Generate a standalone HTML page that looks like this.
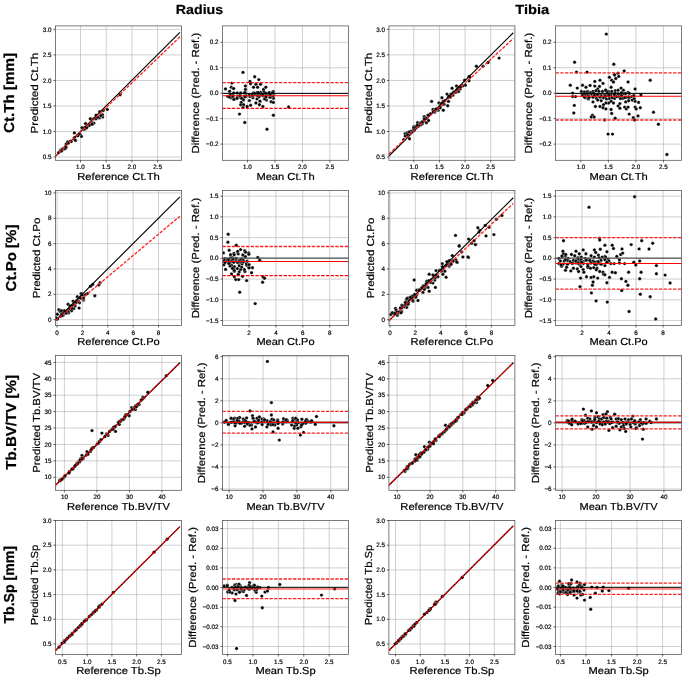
<!DOCTYPE html>
<html><head><meta charset="utf-8"><style>html,body{margin:0;padding:0;background:#fff;}svg{display:block;will-change:transform;text-rendering:geometricPrecision;}</style></head>
<body><svg width="685" height="681" viewBox="0 0 685 681" style="font-family: 'Liberation Sans', sans-serif;">
<rect width="685" height="681" fill="#fff"/>
<text x="199.50" y="14.35" font-size="13.2" text-anchor="middle" stroke="#000" stroke-width="0.2" font-weight="bold" textLength="47.3" lengthAdjust="spacingAndGlyphs">Radius</text>
<text x="532.20" y="14.35" font-size="13.2" text-anchor="middle" stroke="#000" stroke-width="0.2" font-weight="bold" textLength="33.9" lengthAdjust="spacingAndGlyphs">Tibia</text>
<text x="13.60" y="93.00" font-size="14.4" text-anchor="middle" stroke="#000" stroke-width="0.25" font-weight="bold" transform="rotate(-90 13.60 93.00)" textLength="80" lengthAdjust="spacingAndGlyphs">Ct.Th [mm]</text>
<text x="15.60" y="258.00" font-size="14.4" text-anchor="middle" stroke="#000" stroke-width="0.25" font-weight="bold" transform="rotate(-90 15.60 258.00)" textLength="66.8" lengthAdjust="spacingAndGlyphs">Ct.Po [%]</text>
<text x="15.60" y="422.40" font-size="14.4" text-anchor="middle" stroke="#000" stroke-width="0.25" font-weight="bold" transform="rotate(-90 15.60 422.40)" textLength="94.6" lengthAdjust="spacingAndGlyphs">Tb.BV/TV [%]</text>
<text x="13.60" y="584.80" font-size="14.4" text-anchor="middle" stroke="#000" stroke-width="0.25" font-weight="bold" transform="rotate(-90 13.60 584.80)" textLength="77.6" lengthAdjust="spacingAndGlyphs">Tb.Sp [mm]</text>
<clipPath id="c00"><rect x="55.5" y="25.9" width="126.0" height="134.4"/></clipPath>
<path d="M80.50 25.9V160.3M106.20 25.9V160.3M131.90 25.9V160.3M157.60 25.9V160.3M55.5 157.00H181.5M55.5 131.48H181.5M55.5 105.96H181.5M55.5 80.44H181.5M55.5 54.92H181.5M55.5 29.40H181.5" stroke="#b0b0b0" stroke-width="0.6" fill="none"/>
<g clip-path="url(#c00)">
<g fill="#000" stroke="#fff" stroke-width="0.3"><circle cx="60.3" cy="150.5" r="1.7"/><circle cx="63.8" cy="148.7" r="1.7"/><circle cx="66.2" cy="144.0" r="1.7"/><circle cx="70.3" cy="141.1" r="1.7"/><circle cx="74.4" cy="132.9" r="1.7"/><circle cx="75.6" cy="140.5" r="1.7"/><circle cx="74.4" cy="137.6" r="1.7"/><circle cx="77.9" cy="135.2" r="1.7"/><circle cx="81.4" cy="136.4" r="1.7"/><circle cx="82.0" cy="127.6" r="1.7"/><circle cx="83.8" cy="129.4" r="1.7"/><circle cx="85.5" cy="123.5" r="1.7"/><circle cx="89.1" cy="124.7" r="1.7"/><circle cx="90.3" cy="118.8" r="1.7"/><circle cx="93.8" cy="118.8" r="1.7"/><circle cx="96.1" cy="115.3" r="1.7"/><circle cx="96.1" cy="118.8" r="1.7"/><circle cx="99.7" cy="111.7" r="1.7"/><circle cx="102.6" cy="117.0" r="1.7"/><circle cx="103.2" cy="110.5" r="1.7"/><circle cx="107.3" cy="109.4" r="1.7"/><circle cx="120.2" cy="94.7" r="1.7"/><circle cx="75.0" cy="140.0" r="1.7"/><circle cx="60.8" cy="150.0" r="1.7"/><circle cx="60.7" cy="150.9" r="1.7"/><circle cx="80.0" cy="134.2" r="1.7"/><circle cx="79.4" cy="134.0" r="1.7"/><circle cx="67.6" cy="141.9" r="1.7"/><circle cx="84.9" cy="129.0" r="1.7"/><circle cx="60.8" cy="150.8" r="1.7"/><circle cx="65.8" cy="147.5" r="1.7"/><circle cx="99.3" cy="117.9" r="1.7"/><circle cx="89.2" cy="125.6" r="1.7"/><circle cx="61.7" cy="150.9" r="1.7"/><circle cx="91.3" cy="123.2" r="1.7"/><circle cx="86.6" cy="127.4" r="1.7"/><circle cx="97.5" cy="117.1" r="1.7"/><circle cx="84.9" cy="127.4" r="1.7"/><circle cx="93.9" cy="123.1" r="1.7"/><circle cx="62.6" cy="148.9" r="1.7"/><circle cx="65.3" cy="146.7" r="1.7"/><circle cx="91.5" cy="122.3" r="1.7"/><circle cx="101.2" cy="115.4" r="1.7"/><circle cx="86.8" cy="126.3" r="1.7"/><circle cx="101.0" cy="115.4" r="1.7"/><circle cx="92.5" cy="124.1" r="1.7"/><circle cx="92.0" cy="124.3" r="1.7"/><circle cx="71.2" cy="141.6" r="1.7"/><circle cx="58.6" cy="152.6" r="1.7"/><circle cx="65.3" cy="148.8" r="1.7"/><circle cx="64.5" cy="148.6" r="1.7"/><circle cx="102.4" cy="114.8" r="1.7"/><circle cx="86.7" cy="127.7" r="1.7"/><circle cx="101.0" cy="115.5" r="1.7"/><circle cx="77.6" cy="135.8" r="1.7"/><circle cx="65.8" cy="147.3" r="1.7"/><circle cx="68.5" cy="143.1" r="1.7"/></g>
<path d="M55.5 156.30L179.9 32.39" stroke="#000" stroke-width="1.15" fill="none"/>
<path d="M55.5 156.00L179.9 36.83" stroke="#ff2020" stroke-width="1.3" fill="none" stroke-dasharray="3.3 1.4"/>
</g>
<rect x="55.5" y="25.9" width="126.0" height="134.40" fill="none" stroke="#505050" stroke-width="0.75"/>
<path d="M80.50 160.3v2.1M106.20 160.3v2.1M131.90 160.3v2.1M157.60 160.3v2.1M55.5 157.00h-2.1M55.5 131.48h-2.1M55.5 105.96h-2.1M55.5 80.44h-2.1M55.5 54.92h-2.1M55.5 29.40h-2.1" stroke="#222" stroke-width="0.7" fill="none"/>
<text x="80.50" y="169.40" font-size="6.3" text-anchor="middle" stroke="#000" stroke-width="0.18">1.0</text>
<text x="106.20" y="169.40" font-size="6.3" text-anchor="middle" stroke="#000" stroke-width="0.18">1.5</text>
<text x="131.90" y="169.40" font-size="6.3" text-anchor="middle" stroke="#000" stroke-width="0.18">2.0</text>
<text x="157.60" y="169.40" font-size="6.3" text-anchor="middle" stroke="#000" stroke-width="0.18">2.5</text>
<text x="51.50" y="159.10" font-size="6.3" text-anchor="end" stroke="#000" stroke-width="0.18">0.5</text>
<text x="51.50" y="133.58" font-size="6.3" text-anchor="end" stroke="#000" stroke-width="0.18">1.0</text>
<text x="51.50" y="108.06" font-size="6.3" text-anchor="end" stroke="#000" stroke-width="0.18">1.5</text>
<text x="51.50" y="82.54" font-size="6.3" text-anchor="end" stroke="#000" stroke-width="0.18">2.0</text>
<text x="51.50" y="57.02" font-size="6.3" text-anchor="end" stroke="#000" stroke-width="0.18">2.5</text>
<text x="51.50" y="31.50" font-size="6.3" text-anchor="end" stroke="#000" stroke-width="0.18">3.0</text>
<text x="118.50" y="180.30" font-size="10.2" text-anchor="middle" stroke="#000" stroke-width="0.2" textLength="82.7" lengthAdjust="spacingAndGlyphs">Reference Ct.Th</text>
<text x="38.50" y="93.10" font-size="10.2" text-anchor="middle" stroke="#000" stroke-width="0.2" transform="rotate(-90 38.50 93.10)" textLength="80.7" lengthAdjust="spacingAndGlyphs">Predicted Ct.Th</text>
<clipPath id="c01"><rect x="222.5" y="25.9" width="126.0" height="134.4"/></clipPath>
<path d="M247.50 25.9V160.3M274.97 25.9V160.3M302.43 25.9V160.3M329.90 25.9V160.3M222.5 144.10H348.5M222.5 118.65H348.5M222.5 93.20H348.5M222.5 67.75H348.5M222.5 42.30H348.5" stroke="#b0b0b0" stroke-width="0.6" fill="none"/>
<g clip-path="url(#c01)">
<g fill="#000" stroke="#fff" stroke-width="0.3"><circle cx="225.5" cy="88.9" r="1.7"/><circle cx="243.0" cy="72.4" r="1.7"/><circle cx="231.9" cy="83.1" r="1.7"/><circle cx="231.3" cy="87.2" r="1.7"/><circle cx="233.1" cy="88.4" r="1.7"/><circle cx="229.6" cy="91.3" r="1.7"/><circle cx="227.8" cy="96.5" r="1.7"/><circle cx="230.8" cy="97.7" r="1.7"/><circle cx="234.3" cy="98.9" r="1.7"/><circle cx="233.7" cy="93.0" r="1.7"/><circle cx="237.2" cy="93.0" r="1.7"/><circle cx="240.7" cy="93.0" r="1.7"/><circle cx="240.7" cy="97.1" r="1.7"/><circle cx="243.6" cy="100.0" r="1.7"/><circle cx="241.3" cy="102.4" r="1.7"/><circle cx="240.7" cy="104.7" r="1.7"/><circle cx="243.6" cy="104.7" r="1.7"/><circle cx="243.0" cy="107.6" r="1.7"/><circle cx="245.4" cy="86.0" r="1.7"/><circle cx="245.4" cy="89.5" r="1.7"/><circle cx="244.2" cy="93.0" r="1.7"/><circle cx="245.9" cy="96.5" r="1.7"/><circle cx="247.1" cy="106.5" r="1.7"/><circle cx="250.0" cy="81.4" r="1.7"/><circle cx="250.6" cy="83.7" r="1.7"/><circle cx="254.7" cy="76.7" r="1.7"/><circle cx="253.5" cy="87.2" r="1.7"/><circle cx="249.4" cy="100.6" r="1.7"/><circle cx="250.6" cy="105.3" r="1.7"/><circle cx="250.0" cy="96.5" r="1.7"/><circle cx="252.9" cy="97.7" r="1.7"/><circle cx="253.5" cy="93.0" r="1.7"/><circle cx="255.9" cy="84.3" r="1.7"/><circle cx="257.6" cy="87.2" r="1.7"/><circle cx="258.8" cy="79.6" r="1.7"/><circle cx="260.5" cy="84.3" r="1.7"/><circle cx="257.0" cy="92.4" r="1.7"/><circle cx="257.0" cy="98.9" r="1.7"/><circle cx="255.9" cy="103.0" r="1.7"/><circle cx="260.0" cy="101.2" r="1.7"/><circle cx="259.4" cy="104.7" r="1.7"/><circle cx="262.9" cy="106.5" r="1.7"/><circle cx="260.5" cy="92.4" r="1.7"/><circle cx="263.5" cy="89.5" r="1.7"/><circle cx="265.8" cy="87.2" r="1.7"/><circle cx="264.0" cy="95.9" r="1.7"/><circle cx="266.4" cy="100.0" r="1.7"/><circle cx="268.7" cy="93.0" r="1.7"/><circle cx="271.1" cy="94.2" r="1.7"/><circle cx="273.4" cy="94.8" r="1.7"/><circle cx="273.4" cy="98.3" r="1.7"/><circle cx="271.1" cy="101.8" r="1.7"/><circle cx="273.4" cy="102.4" r="1.7"/><circle cx="239.5" cy="114.1" r="1.7"/><circle cx="273.4" cy="115.2" r="1.7"/><circle cx="244.8" cy="122.5" r="1.7"/><circle cx="267.0" cy="129.2" r="1.7"/><circle cx="288.6" cy="107.0" r="1.7"/><circle cx="240.1" cy="95.1" r="1.7"/><circle cx="245.0" cy="92.5" r="1.7"/><circle cx="259.8" cy="94.7" r="1.7"/><circle cx="259.1" cy="96.8" r="1.7"/><circle cx="263.9" cy="91.8" r="1.7"/><circle cx="246.0" cy="95.7" r="1.7"/><circle cx="257.2" cy="95.4" r="1.7"/><circle cx="237.6" cy="96.9" r="1.7"/><circle cx="230.4" cy="95.0" r="1.7"/><circle cx="232.7" cy="95.4" r="1.7"/><circle cx="268.2" cy="94.1" r="1.7"/><circle cx="239.6" cy="96.9" r="1.7"/><circle cx="233.7" cy="88.6" r="1.7"/><circle cx="249.4" cy="95.1" r="1.7"/><circle cx="232.7" cy="96.6" r="1.7"/><circle cx="266.1" cy="95.5" r="1.7"/><circle cx="271.7" cy="94.8" r="1.7"/><circle cx="253.0" cy="95.5" r="1.7"/><circle cx="273.0" cy="92.1" r="1.7"/><circle cx="240.0" cy="96.1" r="1.7"/><circle cx="263.5" cy="94.1" r="1.7"/><circle cx="243.2" cy="99.5" r="1.7"/><circle cx="273.3" cy="91.4" r="1.7"/><circle cx="265.6" cy="93.2" r="1.7"/><circle cx="251.8" cy="95.5" r="1.7"/><circle cx="229.3" cy="96.9" r="1.7"/><circle cx="259.9" cy="94.3" r="1.7"/><circle cx="271.1" cy="94.5" r="1.7"/><circle cx="244.8" cy="96.8" r="1.7"/><circle cx="237.0" cy="98.4" r="1.7"/><circle cx="269.4" cy="92.6" r="1.7"/><circle cx="258.0" cy="94.0" r="1.7"/><circle cx="258.4" cy="92.7" r="1.7"/><circle cx="262.5" cy="95.2" r="1.7"/><circle cx="264.3" cy="98.9" r="1.7"/><circle cx="272.7" cy="96.5" r="1.7"/><circle cx="271.6" cy="93.5" r="1.7"/><circle cx="233.8" cy="99.4" r="1.7"/><circle cx="265.1" cy="98.7" r="1.7"/><circle cx="273.1" cy="93.1" r="1.7"/><circle cx="253.2" cy="95.3" r="1.7"/><circle cx="272.7" cy="92.5" r="1.7"/><circle cx="270.9" cy="97.0" r="1.7"/><circle cx="266.0" cy="96.8" r="1.7"/><circle cx="241.5" cy="98.3" r="1.7"/><circle cx="239.9" cy="95.6" r="1.7"/><circle cx="269.9" cy="97.2" r="1.7"/><circle cx="254.8" cy="93.5" r="1.7"/><circle cx="270.2" cy="95.0" r="1.7"/><circle cx="252.1" cy="95.3" r="1.7"/></g>
<path d="M222.5 93.4H348.5" stroke="#000" stroke-width="1.0" fill="none"/>
<path d="M222.5 95.7H348.5" stroke="#ff0000" stroke-width="1.05" fill="none"/>
<path d="M222.5 82.7H348.5" stroke="#ff2020" stroke-width="1.3" fill="none" stroke-dasharray="3.3 1.4"/>
<path d="M222.5 108.4H348.5" stroke="#ff0000" stroke-width="1.3" fill="none" stroke-dasharray="3.3 1.4"/>
</g>
<rect x="222.5" y="25.9" width="126.0" height="134.40" fill="none" stroke="#505050" stroke-width="0.75"/>
<path d="M247.50 160.3v2.1M274.97 160.3v2.1M302.43 160.3v2.1M329.90 160.3v2.1M222.5 144.10h-2.1M222.5 118.65h-2.1M222.5 93.20h-2.1M222.5 67.75h-2.1M222.5 42.30h-2.1" stroke="#222" stroke-width="0.7" fill="none"/>
<text x="247.50" y="169.40" font-size="6.3" text-anchor="middle" stroke="#000" stroke-width="0.18">1.0</text>
<text x="274.97" y="169.40" font-size="6.3" text-anchor="middle" stroke="#000" stroke-width="0.18">1.5</text>
<text x="302.43" y="169.40" font-size="6.3" text-anchor="middle" stroke="#000" stroke-width="0.18">2.0</text>
<text x="329.90" y="169.40" font-size="6.3" text-anchor="middle" stroke="#000" stroke-width="0.18">2.5</text>
<text x="218.50" y="146.20" font-size="6.3" text-anchor="end" stroke="#000" stroke-width="0.18">−0.2</text>
<text x="218.50" y="120.75" font-size="6.3" text-anchor="end" stroke="#000" stroke-width="0.18">−0.1</text>
<text x="218.50" y="95.30" font-size="6.3" text-anchor="end" stroke="#000" stroke-width="0.18">0.0</text>
<text x="218.50" y="69.85" font-size="6.3" text-anchor="end" stroke="#000" stroke-width="0.18">0.1</text>
<text x="218.50" y="44.40" font-size="6.3" text-anchor="end" stroke="#000" stroke-width="0.18">0.2</text>
<text x="285.50" y="180.30" font-size="10.2" text-anchor="middle" stroke="#000" stroke-width="0.2" textLength="58.2" lengthAdjust="spacingAndGlyphs">Mean Ct.Th</text>
<text x="199.30" y="93.10" font-size="10.2" text-anchor="middle" stroke="#000" stroke-width="0.2" transform="rotate(-90 199.30 93.10)" textLength="120.7" lengthAdjust="spacingAndGlyphs">Difference (Pred. - Ref.)</text>
<clipPath id="c02"><rect x="388.9" y="25.9" width="126.0" height="134.4"/></clipPath>
<path d="M413.80 25.9V160.3M439.43 25.9V160.3M465.07 25.9V160.3M490.70 25.9V160.3M388.9 157.00H514.9M388.9 131.48H514.9M388.9 105.96H514.9M388.9 80.44H514.9M388.9 54.92H514.9M388.9 29.40H514.9" stroke="#b0b0b0" stroke-width="0.6" fill="none"/>
<g clip-path="url(#c02)">
<g fill="#000" stroke="#fff" stroke-width="0.3"><circle cx="405.1" cy="133.7" r="1.7"/><circle cx="408.8" cy="132.2" r="1.7"/><circle cx="409.5" cy="138.8" r="1.7"/><circle cx="403.7" cy="139.6" r="1.7"/><circle cx="415.4" cy="127.8" r="1.7"/><circle cx="417.6" cy="122.7" r="1.7"/><circle cx="420.6" cy="124.9" r="1.7"/><circle cx="425.7" cy="117.5" r="1.7"/><circle cx="426.4" cy="122.7" r="1.7"/><circle cx="428.6" cy="120.5" r="1.7"/><circle cx="431.6" cy="101.4" r="1.7"/><circle cx="433.0" cy="109.5" r="1.7"/><circle cx="434.5" cy="112.4" r="1.7"/><circle cx="438.2" cy="110.2" r="1.7"/><circle cx="438.9" cy="102.9" r="1.7"/><circle cx="441.9" cy="97.7" r="1.7"/><circle cx="443.3" cy="110.2" r="1.7"/><circle cx="444.1" cy="104.3" r="1.7"/><circle cx="447.0" cy="94.1" r="1.7"/><circle cx="447.7" cy="105.8" r="1.7"/><circle cx="448.5" cy="101.4" r="1.7"/><circle cx="450.7" cy="94.1" r="1.7"/><circle cx="452.1" cy="88.2" r="1.7"/><circle cx="456.5" cy="86.0" r="1.7"/><circle cx="456.5" cy="91.9" r="1.7"/><circle cx="460.2" cy="88.9" r="1.7"/><circle cx="464.6" cy="80.1" r="1.7"/><circle cx="465.3" cy="85.2" r="1.7"/><circle cx="469.0" cy="76.4" r="1.7"/><circle cx="469.0" cy="80.8" r="1.7"/><circle cx="476.4" cy="66.2" r="1.7"/><circle cx="483.0" cy="66.2" r="1.7"/><circle cx="488.1" cy="62.5" r="1.7"/><circle cx="499.1" cy="58.1" r="1.7"/><circle cx="417.9" cy="126.4" r="1.7"/><circle cx="413.8" cy="127.3" r="1.7"/><circle cx="440.2" cy="105.8" r="1.7"/><circle cx="440.8" cy="104.3" r="1.7"/><circle cx="441.0" cy="105.3" r="1.7"/><circle cx="453.7" cy="92.1" r="1.7"/><circle cx="455.1" cy="92.4" r="1.7"/><circle cx="443.2" cy="101.4" r="1.7"/><circle cx="448.5" cy="97.2" r="1.7"/><circle cx="437.0" cy="108.7" r="1.7"/><circle cx="462.6" cy="85.9" r="1.7"/><circle cx="442.7" cy="103.9" r="1.7"/><circle cx="413.8" cy="129.8" r="1.7"/><circle cx="408.8" cy="133.2" r="1.7"/><circle cx="448.6" cy="96.1" r="1.7"/><circle cx="413.9" cy="126.6" r="1.7"/><circle cx="415.4" cy="126.9" r="1.7"/><circle cx="419.5" cy="124.0" r="1.7"/><circle cx="438.0" cy="108.6" r="1.7"/><circle cx="413.6" cy="128.1" r="1.7"/><circle cx="426.7" cy="118.2" r="1.7"/><circle cx="452.9" cy="95.3" r="1.7"/><circle cx="434.0" cy="111.6" r="1.7"/><circle cx="444.8" cy="100.8" r="1.7"/><circle cx="469.7" cy="77.3" r="1.7"/><circle cx="410.9" cy="131.2" r="1.7"/><circle cx="455.3" cy="92.3" r="1.7"/><circle cx="433.4" cy="111.5" r="1.7"/><circle cx="422.4" cy="123.8" r="1.7"/><circle cx="441.5" cy="103.5" r="1.7"/><circle cx="407.4" cy="132.7" r="1.7"/><circle cx="410.1" cy="132.3" r="1.7"/><circle cx="458.6" cy="91.5" r="1.7"/><circle cx="409.1" cy="132.3" r="1.7"/><circle cx="424.2" cy="116.6" r="1.7"/><circle cx="422.5" cy="122.4" r="1.7"/><circle cx="420.2" cy="123.5" r="1.7"/><circle cx="407.6" cy="134.9" r="1.7"/><circle cx="424.2" cy="118.5" r="1.7"/><circle cx="437.4" cy="108.8" r="1.7"/><circle cx="405.2" cy="136.1" r="1.7"/><circle cx="451.8" cy="94.3" r="1.7"/><circle cx="435.8" cy="109.3" r="1.7"/><circle cx="457.0" cy="90.0" r="1.7"/><circle cx="458.2" cy="89.3" r="1.7"/><circle cx="450.3" cy="97.0" r="1.7"/><circle cx="458.5" cy="87.4" r="1.7"/><circle cx="430.5" cy="113.8" r="1.7"/><circle cx="414.1" cy="130.2" r="1.7"/><circle cx="421.1" cy="122.5" r="1.7"/><circle cx="460.5" cy="87.1" r="1.7"/><circle cx="422.6" cy="121.5" r="1.7"/><circle cx="434.9" cy="111.3" r="1.7"/><circle cx="424.0" cy="121.1" r="1.7"/><circle cx="440.2" cy="107.9" r="1.7"/><circle cx="424.4" cy="119.1" r="1.7"/><circle cx="428.0" cy="115.1" r="1.7"/><circle cx="417.2" cy="125.3" r="1.7"/><circle cx="422.3" cy="122.2" r="1.7"/><circle cx="407.6" cy="134.7" r="1.7"/></g>
<path d="M388.9 156.00L513.3 32.78" stroke="#000" stroke-width="1.15" fill="none"/>
<path d="M388.9 154.00L513.3 38.39" stroke="#ff2020" stroke-width="1.3" fill="none" stroke-dasharray="3.3 1.4"/>
</g>
<rect x="388.9" y="25.9" width="126.0" height="134.40" fill="none" stroke="#505050" stroke-width="0.75"/>
<path d="M413.80 160.3v2.1M439.43 160.3v2.1M465.07 160.3v2.1M490.70 160.3v2.1M388.9 157.00h-2.1M388.9 131.48h-2.1M388.9 105.96h-2.1M388.9 80.44h-2.1M388.9 54.92h-2.1M388.9 29.40h-2.1" stroke="#222" stroke-width="0.7" fill="none"/>
<text x="413.80" y="169.40" font-size="6.3" text-anchor="middle" stroke="#000" stroke-width="0.18">1.0</text>
<text x="439.43" y="169.40" font-size="6.3" text-anchor="middle" stroke="#000" stroke-width="0.18">1.5</text>
<text x="465.07" y="169.40" font-size="6.3" text-anchor="middle" stroke="#000" stroke-width="0.18">2.0</text>
<text x="490.70" y="169.40" font-size="6.3" text-anchor="middle" stroke="#000" stroke-width="0.18">2.5</text>
<text x="384.90" y="159.10" font-size="6.3" text-anchor="end" stroke="#000" stroke-width="0.18">0.5</text>
<text x="384.90" y="133.58" font-size="6.3" text-anchor="end" stroke="#000" stroke-width="0.18">1.0</text>
<text x="384.90" y="108.06" font-size="6.3" text-anchor="end" stroke="#000" stroke-width="0.18">1.5</text>
<text x="384.90" y="82.54" font-size="6.3" text-anchor="end" stroke="#000" stroke-width="0.18">2.0</text>
<text x="384.90" y="57.02" font-size="6.3" text-anchor="end" stroke="#000" stroke-width="0.18">2.5</text>
<text x="384.90" y="31.50" font-size="6.3" text-anchor="end" stroke="#000" stroke-width="0.18">3.0</text>
<text x="451.90" y="180.30" font-size="10.2" text-anchor="middle" stroke="#000" stroke-width="0.2" textLength="82.7" lengthAdjust="spacingAndGlyphs">Reference Ct.Th</text>
<text x="371.90" y="93.10" font-size="10.2" text-anchor="middle" stroke="#000" stroke-width="0.2" transform="rotate(-90 371.90 93.10)" textLength="80.7" lengthAdjust="spacingAndGlyphs">Predicted Ct.Th</text>
<clipPath id="c03"><rect x="555.6" y="25.9" width="126.0" height="134.4"/></clipPath>
<path d="M580.80 25.9V160.3M608.33 25.9V160.3M635.87 25.9V160.3M663.40 25.9V160.3M555.6 144.10H681.6M555.6 118.65H681.6M555.6 93.20H681.6M555.6 67.75H681.6M555.6 42.30H681.6" stroke="#b0b0b0" stroke-width="0.6" fill="none"/>
<g clip-path="url(#c03)">
<g fill="#000" stroke="#fff" stroke-width="0.3"><circle cx="606.3" cy="34.1" r="1.7"/><circle cx="574.6" cy="62.2" r="1.7"/><circle cx="576.5" cy="72.1" r="1.7"/><circle cx="587.0" cy="72.1" r="1.7"/><circle cx="608.1" cy="134.1" r="1.7"/><circle cx="612.5" cy="134.1" r="1.7"/><circle cx="613.8" cy="64.2" r="1.7"/><circle cx="614.3" cy="74.6" r="1.7"/><circle cx="618.0" cy="73.3" r="1.7"/><circle cx="624.2" cy="70.9" r="1.7"/><circle cx="650.2" cy="80.3" r="1.7"/><circle cx="653.5" cy="112.3" r="1.7"/><circle cx="658.4" cy="124.2" r="1.7"/><circle cx="666.9" cy="154.5" r="1.7"/><circle cx="570.3" cy="85.3" r="1.7"/><circle cx="577.3" cy="88.1" r="1.7"/><circle cx="582.5" cy="85.3" r="1.7"/><circle cx="586.0" cy="87.3" r="1.7"/><circle cx="590.1" cy="85.5" r="1.7"/><circle cx="594.8" cy="81.4" r="1.7"/><circle cx="600.0" cy="80.3" r="1.7"/><circle cx="603.0" cy="83.4" r="1.7"/><circle cx="594.8" cy="86.1" r="1.7"/><circle cx="599.5" cy="86.4" r="1.7"/><circle cx="597.7" cy="89.0" r="1.7"/><circle cx="611.1" cy="87.3" r="1.7"/><circle cx="609.4" cy="77.3" r="1.7"/><circle cx="611.7" cy="80.3" r="1.7"/><circle cx="613.5" cy="82.0" r="1.7"/><circle cx="615.8" cy="78.5" r="1.7"/><circle cx="618.7" cy="76.4" r="1.7"/><circle cx="614.6" cy="75.0" r="1.7"/><circle cx="628.1" cy="82.0" r="1.7"/><circle cx="621.1" cy="88.1" r="1.7"/><circle cx="623.4" cy="90.2" r="1.7"/><circle cx="635.1" cy="89.0" r="1.7"/><circle cx="628.1" cy="92.5" r="1.7"/><circle cx="640.9" cy="94.9" r="1.7"/><circle cx="572.6" cy="93.1" r="1.7"/><circle cx="572.6" cy="96.6" r="1.7"/><circle cx="575.5" cy="96.6" r="1.7"/><circle cx="574.3" cy="105.4" r="1.7"/><circle cx="573.8" cy="113.0" r="1.7"/><circle cx="581.4" cy="91.4" r="1.7"/><circle cx="584.3" cy="91.9" r="1.7"/><circle cx="587.8" cy="91.4" r="1.7"/><circle cx="590.7" cy="92.5" r="1.7"/><circle cx="593.0" cy="91.4" r="1.7"/><circle cx="595.9" cy="90.8" r="1.7"/><circle cx="598.9" cy="91.4" r="1.7"/><circle cx="602.4" cy="91.4" r="1.7"/><circle cx="605.3" cy="90.2" r="1.7"/><circle cx="608.8" cy="91.4" r="1.7"/><circle cx="611.7" cy="91.4" r="1.7"/><circle cx="615.2" cy="90.8" r="1.7"/><circle cx="618.1" cy="90.2" r="1.7"/><circle cx="582.5" cy="94.3" r="1.7"/><circle cx="585.4" cy="94.9" r="1.7"/><circle cx="588.4" cy="95.4" r="1.7"/><circle cx="591.9" cy="94.3" r="1.7"/><circle cx="595.4" cy="94.9" r="1.7"/><circle cx="598.3" cy="94.3" r="1.7"/><circle cx="601.2" cy="95.4" r="1.7"/><circle cx="604.7" cy="94.9" r="1.7"/><circle cx="607.6" cy="94.3" r="1.7"/><circle cx="610.5" cy="94.9" r="1.7"/><circle cx="614.1" cy="94.9" r="1.7"/><circle cx="616.4" cy="94.3" r="1.7"/><circle cx="619.9" cy="95.4" r="1.7"/><circle cx="624.0" cy="93.7" r="1.7"/><circle cx="585.4" cy="97.8" r="1.7"/><circle cx="588.4" cy="98.9" r="1.7"/><circle cx="593.0" cy="97.2" r="1.7"/><circle cx="596.5" cy="98.4" r="1.7"/><circle cx="600.0" cy="97.2" r="1.7"/><circle cx="603.5" cy="97.8" r="1.7"/><circle cx="606.5" cy="98.9" r="1.7"/><circle cx="609.4" cy="98.4" r="1.7"/><circle cx="612.3" cy="97.8" r="1.7"/><circle cx="614.6" cy="98.4" r="1.7"/><circle cx="618.7" cy="96.6" r="1.7"/><circle cx="622.8" cy="98.4" r="1.7"/><circle cx="626.3" cy="97.2" r="1.7"/><circle cx="629.2" cy="97.8" r="1.7"/><circle cx="631.6" cy="96.6" r="1.7"/><circle cx="593.0" cy="101.9" r="1.7"/><circle cx="597.7" cy="100.1" r="1.7"/><circle cx="601.2" cy="100.7" r="1.7"/><circle cx="605.9" cy="103.0" r="1.7"/><circle cx="608.8" cy="103.0" r="1.7"/><circle cx="611.1" cy="101.3" r="1.7"/><circle cx="613.5" cy="103.0" r="1.7"/><circle cx="619.9" cy="103.6" r="1.7"/><circle cx="625.7" cy="101.9" r="1.7"/><circle cx="628.6" cy="100.7" r="1.7"/><circle cx="632.2" cy="100.1" r="1.7"/><circle cx="635.1" cy="101.3" r="1.7"/><circle cx="638.6" cy="102.4" r="1.7"/><circle cx="595.4" cy="106.5" r="1.7"/><circle cx="600.0" cy="106.5" r="1.7"/><circle cx="603.5" cy="104.8" r="1.7"/><circle cx="603.0" cy="107.7" r="1.7"/><circle cx="605.9" cy="108.9" r="1.7"/><circle cx="611.1" cy="109.5" r="1.7"/><circle cx="611.7" cy="113.5" r="1.7"/><circle cx="618.1" cy="105.9" r="1.7"/><circle cx="619.9" cy="108.3" r="1.7"/><circle cx="624.6" cy="107.1" r="1.7"/><circle cx="626.3" cy="108.9" r="1.7"/><circle cx="628.1" cy="107.1" r="1.7"/><circle cx="635.1" cy="107.1" r="1.7"/><circle cx="636.2" cy="108.9" r="1.7"/><circle cx="640.3" cy="107.7" r="1.7"/><circle cx="592.4" cy="115.3" r="1.7"/><circle cx="591.3" cy="117.0" r="1.7"/><circle cx="594.2" cy="117.0" r="1.7"/><circle cx="629.2" cy="114.1" r="1.7"/><circle cx="615.2" cy="118.2" r="1.7"/><circle cx="633.3" cy="117.6" r="1.7"/><circle cx="638.0" cy="115.9" r="1.7"/><circle cx="604.7" cy="120.0" r="1.7"/><circle cx="634.5" cy="120.0" r="1.7"/><circle cx="593.6" cy="93.2" r="1.7"/><circle cx="621.5" cy="92.8" r="1.7"/><circle cx="628.5" cy="96.9" r="1.7"/><circle cx="634.2" cy="98.6" r="1.7"/><circle cx="615.7" cy="96.3" r="1.7"/><circle cx="629.2" cy="93.4" r="1.7"/><circle cx="624.9" cy="97.5" r="1.7"/><circle cx="608.2" cy="91.9" r="1.7"/><circle cx="625.6" cy="93.5" r="1.7"/><circle cx="617.9" cy="94.0" r="1.7"/><circle cx="582.7" cy="95.5" r="1.7"/><circle cx="586.7" cy="92.0" r="1.7"/><circle cx="614.9" cy="93.1" r="1.7"/><circle cx="607.4" cy="95.1" r="1.7"/><circle cx="621.4" cy="95.5" r="1.7"/><circle cx="616.6" cy="96.6" r="1.7"/><circle cx="594.6" cy="95.2" r="1.7"/><circle cx="620.4" cy="98.6" r="1.7"/><circle cx="633.7" cy="96.0" r="1.7"/><circle cx="606.9" cy="91.8" r="1.7"/><circle cx="614.3" cy="94.6" r="1.7"/><circle cx="589.0" cy="97.6" r="1.7"/><circle cx="597.4" cy="94.5" r="1.7"/><circle cx="584.3" cy="97.1" r="1.7"/><circle cx="618.4" cy="93.9" r="1.7"/><circle cx="608.9" cy="95.5" r="1.7"/><circle cx="587.4" cy="93.4" r="1.7"/><circle cx="633.8" cy="95.8" r="1.7"/><circle cx="605.8" cy="90.2" r="1.7"/><circle cx="605.3" cy="96.3" r="1.7"/></g>
<path d="M555.6 93.4H681.6" stroke="#000" stroke-width="1.0" fill="none"/>
<path d="M555.6 96.3H681.6" stroke="#ff0000" stroke-width="1.05" fill="none"/>
<path d="M555.6 72.9H681.6" stroke="#ff2020" stroke-width="1.3" fill="none" stroke-dasharray="3.3 1.4"/>
<path d="M555.6 120.0H681.6" stroke="#ff2020" stroke-width="1.3" fill="none" stroke-dasharray="3.3 1.4"/>
</g>
<rect x="555.6" y="25.9" width="126.0" height="134.40" fill="none" stroke="#505050" stroke-width="0.75"/>
<path d="M580.80 160.3v2.1M608.33 160.3v2.1M635.87 160.3v2.1M663.40 160.3v2.1M555.6 144.10h-2.1M555.6 118.65h-2.1M555.6 93.20h-2.1M555.6 67.75h-2.1M555.6 42.30h-2.1" stroke="#222" stroke-width="0.7" fill="none"/>
<text x="580.80" y="169.40" font-size="6.3" text-anchor="middle" stroke="#000" stroke-width="0.18">1.0</text>
<text x="608.33" y="169.40" font-size="6.3" text-anchor="middle" stroke="#000" stroke-width="0.18">1.5</text>
<text x="635.87" y="169.40" font-size="6.3" text-anchor="middle" stroke="#000" stroke-width="0.18">2.0</text>
<text x="663.40" y="169.40" font-size="6.3" text-anchor="middle" stroke="#000" stroke-width="0.18">2.5</text>
<text x="551.60" y="146.20" font-size="6.3" text-anchor="end" stroke="#000" stroke-width="0.18">−0.2</text>
<text x="551.60" y="120.75" font-size="6.3" text-anchor="end" stroke="#000" stroke-width="0.18">−0.1</text>
<text x="551.60" y="95.30" font-size="6.3" text-anchor="end" stroke="#000" stroke-width="0.18">0.0</text>
<text x="551.60" y="69.85" font-size="6.3" text-anchor="end" stroke="#000" stroke-width="0.18">0.1</text>
<text x="551.60" y="44.40" font-size="6.3" text-anchor="end" stroke="#000" stroke-width="0.18">0.2</text>
<text x="618.60" y="180.30" font-size="10.2" text-anchor="middle" stroke="#000" stroke-width="0.2" textLength="58.2" lengthAdjust="spacingAndGlyphs">Mean Ct.Th</text>
<text x="532.40" y="93.10" font-size="10.2" text-anchor="middle" stroke="#000" stroke-width="0.2" transform="rotate(-90 532.40 93.10)" textLength="120.7" lengthAdjust="spacingAndGlyphs">Difference (Pred. - Ref.)</text>
<clipPath id="c10"><rect x="55.5" y="190.6" width="126.0" height="134.79999999999998"/></clipPath>
<path d="M57.05 190.6V325.4M82.41 190.6V325.4M107.78 190.6V325.4M133.14 190.6V325.4M158.50 190.6V325.4M55.5 319.70H181.5M55.5 294.34H181.5M55.5 268.98H181.5M55.5 243.62H181.5M55.5 218.26H181.5M55.5 192.90H181.5" stroke="#b0b0b0" stroke-width="0.6" fill="none"/>
<g clip-path="url(#c10)">
<g fill="#000" stroke="#fff" stroke-width="0.3"><circle cx="57.6" cy="319.0" r="1.7"/><circle cx="60.3" cy="316.4" r="1.7"/><circle cx="58.9" cy="309.8" r="1.7"/><circle cx="60.3" cy="311.6" r="1.7"/><circle cx="63.8" cy="313.3" r="1.7"/><circle cx="66.4" cy="312.5" r="1.7"/><circle cx="68.1" cy="304.2" r="1.7"/><circle cx="68.6" cy="312.9" r="1.7"/><circle cx="69.9" cy="305.9" r="1.7"/><circle cx="71.6" cy="310.7" r="1.7"/><circle cx="73.0" cy="301.1" r="1.7"/><circle cx="73.8" cy="308.5" r="1.7"/><circle cx="75.1" cy="305.9" r="1.7"/><circle cx="76.0" cy="301.1" r="1.7"/><circle cx="77.3" cy="296.7" r="1.7"/><circle cx="79.1" cy="308.1" r="1.7"/><circle cx="79.5" cy="302.8" r="1.7"/><circle cx="80.0" cy="297.6" r="1.7"/><circle cx="81.3" cy="293.6" r="1.7"/><circle cx="83.5" cy="300.2" r="1.7"/><circle cx="87.4" cy="293.6" r="1.7"/><circle cx="90.5" cy="286.2" r="1.7"/><circle cx="92.7" cy="284.4" r="1.7"/><circle cx="94.8" cy="295.8" r="1.7"/><circle cx="98.8" cy="284.9" r="1.7"/><circle cx="100.1" cy="282.7" r="1.7"/><circle cx="83.2" cy="299.5" r="1.7"/><circle cx="57.3" cy="314.2" r="1.7"/><circle cx="62.4" cy="313.1" r="1.7"/><circle cx="80.7" cy="297.2" r="1.7"/><circle cx="80.9" cy="298.3" r="1.7"/><circle cx="56.1" cy="318.0" r="1.7"/><circle cx="66.9" cy="312.6" r="1.7"/><circle cx="66.3" cy="311.0" r="1.7"/><circle cx="78.0" cy="300.7" r="1.7"/><circle cx="81.2" cy="293.8" r="1.7"/><circle cx="64.3" cy="312.9" r="1.7"/><circle cx="82.5" cy="295.1" r="1.7"/><circle cx="69.0" cy="309.1" r="1.7"/><circle cx="61.4" cy="314.5" r="1.7"/><circle cx="82.3" cy="298.8" r="1.7"/><circle cx="71.9" cy="308.4" r="1.7"/><circle cx="85.3" cy="294.8" r="1.7"/><circle cx="78.1" cy="301.9" r="1.7"/><circle cx="72.2" cy="305.4" r="1.7"/><circle cx="74.2" cy="302.8" r="1.7"/><circle cx="74.6" cy="304.4" r="1.7"/><circle cx="83.5" cy="299.1" r="1.7"/><circle cx="66.1" cy="313.3" r="1.7"/><circle cx="83.2" cy="299.1" r="1.7"/><circle cx="64.1" cy="310.7" r="1.7"/><circle cx="63.0" cy="315.4" r="1.7"/><circle cx="80.3" cy="298.1" r="1.7"/><circle cx="83.5" cy="298.0" r="1.7"/><circle cx="61.9" cy="315.7" r="1.7"/><circle cx="68.0" cy="311.2" r="1.7"/><circle cx="61.3" cy="310.7" r="1.7"/><circle cx="75.9" cy="302.5" r="1.7"/></g>
<path d="M55.5 320.90L179.9 196.89" stroke="#000" stroke-width="1.15" fill="none"/>
<path d="M55.5 320.71L179.9 216.14" stroke="#ff2020" stroke-width="1.3" fill="none" stroke-dasharray="3.3 1.4"/>
</g>
<rect x="55.5" y="190.6" width="126.0" height="134.80" fill="none" stroke="#505050" stroke-width="0.75"/>
<path d="M57.05 325.4v2.1M82.41 325.4v2.1M107.78 325.4v2.1M133.14 325.4v2.1M158.50 325.4v2.1M55.5 319.70h-2.1M55.5 294.34h-2.1M55.5 268.98h-2.1M55.5 243.62h-2.1M55.5 218.26h-2.1M55.5 192.90h-2.1" stroke="#222" stroke-width="0.7" fill="none"/>
<text x="57.05" y="334.50" font-size="6.3" text-anchor="middle" stroke="#000" stroke-width="0.18">0</text>
<text x="82.41" y="334.50" font-size="6.3" text-anchor="middle" stroke="#000" stroke-width="0.18">2</text>
<text x="107.78" y="334.50" font-size="6.3" text-anchor="middle" stroke="#000" stroke-width="0.18">4</text>
<text x="133.14" y="334.50" font-size="6.3" text-anchor="middle" stroke="#000" stroke-width="0.18">6</text>
<text x="158.50" y="334.50" font-size="6.3" text-anchor="middle" stroke="#000" stroke-width="0.18">8</text>
<text x="51.50" y="321.80" font-size="6.3" text-anchor="end" stroke="#000" stroke-width="0.18">0</text>
<text x="51.50" y="296.44" font-size="6.3" text-anchor="end" stroke="#000" stroke-width="0.18">2</text>
<text x="51.50" y="271.08" font-size="6.3" text-anchor="end" stroke="#000" stroke-width="0.18">4</text>
<text x="51.50" y="245.72" font-size="6.3" text-anchor="end" stroke="#000" stroke-width="0.18">6</text>
<text x="51.50" y="220.36" font-size="6.3" text-anchor="end" stroke="#000" stroke-width="0.18">8</text>
<text x="51.50" y="195.00" font-size="6.3" text-anchor="end" stroke="#000" stroke-width="0.18">10</text>
<text x="118.50" y="345.40" font-size="10.2" text-anchor="middle" stroke="#000" stroke-width="0.2" textLength="82.7" lengthAdjust="spacingAndGlyphs">Reference Ct.Po</text>
<text x="40.00" y="258.00" font-size="10.2" text-anchor="middle" stroke="#000" stroke-width="0.2" transform="rotate(-90 40.00 258.00)" textLength="80.7" lengthAdjust="spacingAndGlyphs">Predicted Ct.Po</text>
<clipPath id="c11"><rect x="222.5" y="190.6" width="126.0" height="134.79999999999998"/></clipPath>
<path d="M249.00 190.6V325.4M275.90 190.6V325.4M302.80 190.6V325.4M329.70 190.6V325.4M222.5 320.50H348.5M222.5 299.78H348.5M222.5 279.07H348.5M222.5 258.35H348.5M222.5 237.63H348.5M222.5 216.92H348.5M222.5 196.20H348.5" stroke="#b0b0b0" stroke-width="0.6" fill="none"/>
<g clip-path="url(#c11)">
<g fill="#000" stroke="#fff" stroke-width="0.3"><circle cx="228.2" cy="234.3" r="1.7"/><circle cx="227.9" cy="242.2" r="1.7"/><circle cx="236.3" cy="245.3" r="1.7"/><circle cx="229.2" cy="250.2" r="1.7"/><circle cx="240.6" cy="249.6" r="1.7"/><circle cx="244.7" cy="250.8" r="1.7"/><circle cx="248.7" cy="252.9" r="1.7"/><circle cx="223.4" cy="252.9" r="1.7"/><circle cx="233.9" cy="253.4" r="1.7"/><circle cx="238.2" cy="253.9" r="1.7"/><circle cx="244.9" cy="256.7" r="1.7"/><circle cx="224.9" cy="258.6" r="1.7"/><circle cx="232.5" cy="257.7" r="1.7"/><circle cx="236.3" cy="258.6" r="1.7"/><circle cx="242.5" cy="259.1" r="1.7"/><circle cx="257.8" cy="257.5" r="1.7"/><circle cx="259.7" cy="260.3" r="1.7"/><circle cx="228.7" cy="263.4" r="1.7"/><circle cx="231.5" cy="265.3" r="1.7"/><circle cx="234.4" cy="266.7" r="1.7"/><circle cx="239.2" cy="265.8" r="1.7"/><circle cx="242.0" cy="263.9" r="1.7"/><circle cx="246.8" cy="265.3" r="1.7"/><circle cx="248.7" cy="267.7" r="1.7"/><circle cx="252.5" cy="267.7" r="1.7"/><circle cx="232.5" cy="268.6" r="1.7"/><circle cx="237.3" cy="268.6" r="1.7"/><circle cx="240.6" cy="269.6" r="1.7"/><circle cx="234.4" cy="271.2" r="1.7"/><circle cx="239.2" cy="272.0" r="1.7"/><circle cx="244.9" cy="271.5" r="1.7"/><circle cx="251.6" cy="272.7" r="1.7"/><circle cx="231.5" cy="273.9" r="1.7"/><circle cx="238.2" cy="274.4" r="1.7"/><circle cx="234.4" cy="276.8" r="1.7"/><circle cx="242.5" cy="276.3" r="1.7"/><circle cx="235.8" cy="279.6" r="1.7"/><circle cx="238.7" cy="279.6" r="1.7"/><circle cx="246.6" cy="280.6" r="1.7"/><circle cx="263.0" cy="276.8" r="1.7"/><circle cx="264.5" cy="278.2" r="1.7"/><circle cx="262.6" cy="282.3" r="1.7"/><circle cx="239.7" cy="292.2" r="1.7"/><circle cx="255.2" cy="303.6" r="1.7"/><circle cx="237.6" cy="262.6" r="1.7"/><circle cx="225.6" cy="269.4" r="1.7"/><circle cx="227.3" cy="259.1" r="1.7"/><circle cx="246.4" cy="263.8" r="1.7"/><circle cx="230.5" cy="262.1" r="1.7"/><circle cx="248.8" cy="254.3" r="1.7"/><circle cx="224.6" cy="260.3" r="1.7"/><circle cx="247.3" cy="261.7" r="1.7"/><circle cx="224.0" cy="264.8" r="1.7"/><circle cx="245.5" cy="252.2" r="1.7"/><circle cx="230.5" cy="261.0" r="1.7"/><circle cx="237.6" cy="251.4" r="1.7"/><circle cx="242.8" cy="255.0" r="1.7"/><circle cx="235.9" cy="259.6" r="1.7"/><circle cx="244.3" cy="269.5" r="1.7"/><circle cx="240.8" cy="262.3" r="1.7"/><circle cx="230.5" cy="254.8" r="1.7"/><circle cx="226.9" cy="261.3" r="1.7"/><circle cx="239.2" cy="262.0" r="1.7"/><circle cx="239.6" cy="260.4" r="1.7"/><circle cx="236.0" cy="258.5" r="1.7"/><circle cx="247.0" cy="261.2" r="1.7"/><circle cx="230.4" cy="258.0" r="1.7"/><circle cx="232.0" cy="260.3" r="1.7"/><circle cx="241.5" cy="261.8" r="1.7"/><circle cx="241.4" cy="259.0" r="1.7"/><circle cx="224.9" cy="262.6" r="1.7"/><circle cx="241.7" cy="267.1" r="1.7"/><circle cx="243.2" cy="260.4" r="1.7"/><circle cx="249.2" cy="267.8" r="1.7"/><circle cx="230.0" cy="266.1" r="1.7"/><circle cx="231.7" cy="258.2" r="1.7"/><circle cx="228.9" cy="263.5" r="1.7"/><circle cx="241.3" cy="259.6" r="1.7"/><circle cx="234.2" cy="270.3" r="1.7"/><circle cx="227.7" cy="259.7" r="1.7"/><circle cx="234.2" cy="254.8" r="1.7"/><circle cx="243.1" cy="260.3" r="1.7"/><circle cx="232.6" cy="268.3" r="1.7"/><circle cx="243.4" cy="261.7" r="1.7"/><circle cx="233.8" cy="262.3" r="1.7"/><circle cx="228.4" cy="259.4" r="1.7"/><circle cx="233.1" cy="259.1" r="1.7"/><circle cx="249.1" cy="264.6" r="1.7"/><circle cx="245.4" cy="256.8" r="1.7"/></g>
<path d="M222.5 258.1H348.5" stroke="#555555" stroke-width="1.4" fill="none"/>
<path d="M222.5 261.5H348.5" stroke="#ff0000" stroke-width="1.0" fill="none"/>
<path d="M222.5 246.5H348.5" stroke="#ff2020" stroke-width="1.3" fill="none" stroke-dasharray="3.3 1.4"/>
<path d="M222.5 275.6H348.5" stroke="#ff0000" stroke-width="1.3" fill="none" stroke-dasharray="3.3 1.4"/>
</g>
<rect x="222.5" y="190.6" width="126.0" height="134.80" fill="none" stroke="#505050" stroke-width="0.75"/>
<path d="M249.00 325.4v2.1M275.90 325.4v2.1M302.80 325.4v2.1M329.70 325.4v2.1M222.5 320.50h-2.1M222.5 299.78h-2.1M222.5 279.07h-2.1M222.5 258.35h-2.1M222.5 237.63h-2.1M222.5 216.92h-2.1M222.5 196.20h-2.1" stroke="#222" stroke-width="0.7" fill="none"/>
<text x="249.00" y="334.50" font-size="6.3" text-anchor="middle" stroke="#000" stroke-width="0.18">2</text>
<text x="275.90" y="334.50" font-size="6.3" text-anchor="middle" stroke="#000" stroke-width="0.18">4</text>
<text x="302.80" y="334.50" font-size="6.3" text-anchor="middle" stroke="#000" stroke-width="0.18">6</text>
<text x="329.70" y="334.50" font-size="6.3" text-anchor="middle" stroke="#000" stroke-width="0.18">8</text>
<text x="218.50" y="322.60" font-size="6.3" text-anchor="end" stroke="#000" stroke-width="0.18">−1.5</text>
<text x="218.50" y="301.88" font-size="6.3" text-anchor="end" stroke="#000" stroke-width="0.18">−1.0</text>
<text x="218.50" y="281.17" font-size="6.3" text-anchor="end" stroke="#000" stroke-width="0.18">−0.5</text>
<text x="218.50" y="260.45" font-size="6.3" text-anchor="end" stroke="#000" stroke-width="0.18">0.0</text>
<text x="218.50" y="239.73" font-size="6.3" text-anchor="end" stroke="#000" stroke-width="0.18">0.5</text>
<text x="218.50" y="219.02" font-size="6.3" text-anchor="end" stroke="#000" stroke-width="0.18">1.0</text>
<text x="218.50" y="198.30" font-size="6.3" text-anchor="end" stroke="#000" stroke-width="0.18">1.5</text>
<text x="285.50" y="345.40" font-size="10.2" text-anchor="middle" stroke="#000" stroke-width="0.2" textLength="58.2" lengthAdjust="spacingAndGlyphs">Mean Ct.Po</text>
<text x="199.30" y="258.00" font-size="10.2" text-anchor="middle" stroke="#000" stroke-width="0.2" transform="rotate(-90 199.30 258.00)" textLength="120.7" lengthAdjust="spacingAndGlyphs">Difference (Pred. - Ref.)</text>
<clipPath id="c12"><rect x="388.9" y="190.6" width="126.0" height="134.79999999999998"/></clipPath>
<path d="M390.00 190.6V325.4M415.35 190.6V325.4M440.70 190.6V325.4M466.05 190.6V325.4M491.40 190.6V325.4M388.9 319.70H514.9M388.9 294.34H514.9M388.9 268.98H514.9M388.9 243.62H514.9M388.9 218.26H514.9M388.9 192.90H514.9" stroke="#b0b0b0" stroke-width="0.6" fill="none"/>
<g clip-path="url(#c12)">
<g fill="#000" stroke="#fff" stroke-width="0.3"><circle cx="395.5" cy="308.4" r="1.7"/><circle cx="397.4" cy="314.9" r="1.7"/><circle cx="401.7" cy="311.8" r="1.7"/><circle cx="401.7" cy="308.0" r="1.7"/><circle cx="406.7" cy="307.4" r="1.7"/><circle cx="405.5" cy="303.7" r="1.7"/><circle cx="409.2" cy="298.7" r="1.7"/><circle cx="412.3" cy="296.2" r="1.7"/><circle cx="413.0" cy="301.2" r="1.7"/><circle cx="416.7" cy="294.9" r="1.7"/><circle cx="418.0" cy="300.5" r="1.7"/><circle cx="414.2" cy="280.0" r="1.7"/><circle cx="418.6" cy="289.9" r="1.7"/><circle cx="423.0" cy="292.4" r="1.7"/><circle cx="423.6" cy="286.2" r="1.7"/><circle cx="426.7" cy="281.2" r="1.7"/><circle cx="428.0" cy="287.4" r="1.7"/><circle cx="429.2" cy="291.2" r="1.7"/><circle cx="429.2" cy="274.3" r="1.7"/><circle cx="431.1" cy="280.0" r="1.7"/><circle cx="432.9" cy="275.0" r="1.7"/><circle cx="432.9" cy="283.1" r="1.7"/><circle cx="434.8" cy="280.0" r="1.7"/><circle cx="435.4" cy="287.4" r="1.7"/><circle cx="436.1" cy="270.6" r="1.7"/><circle cx="437.9" cy="276.8" r="1.7"/><circle cx="442.3" cy="263.7" r="1.7"/><circle cx="442.9" cy="274.3" r="1.7"/><circle cx="444.8" cy="271.2" r="1.7"/><circle cx="446.1" cy="277.2" r="1.7"/><circle cx="449.2" cy="260.6" r="1.7"/><circle cx="449.2" cy="266.2" r="1.7"/><circle cx="452.3" cy="255.6" r="1.7"/><circle cx="456.0" cy="260.0" r="1.7"/><circle cx="457.3" cy="262.5" r="1.7"/><circle cx="459.2" cy="246.2" r="1.7"/><circle cx="455.5" cy="235.4" r="1.7"/><circle cx="459.2" cy="245.8" r="1.7"/><circle cx="462.9" cy="257.0" r="1.7"/><circle cx="456.7" cy="261.9" r="1.7"/><circle cx="461.7" cy="252.0" r="1.7"/><circle cx="468.6" cy="257.5" r="1.7"/><circle cx="468.6" cy="239.1" r="1.7"/><circle cx="471.6" cy="243.3" r="1.7"/><circle cx="474.1" cy="240.8" r="1.7"/><circle cx="475.8" cy="244.6" r="1.7"/><circle cx="479.8" cy="230.4" r="1.7"/><circle cx="477.8" cy="227.7" r="1.7"/><circle cx="479.0" cy="232.1" r="1.7"/><circle cx="485.2" cy="225.4" r="1.7"/><circle cx="486.0" cy="235.9" r="1.7"/><circle cx="489.0" cy="227.2" r="1.7"/><circle cx="493.9" cy="234.6" r="1.7"/><circle cx="496.4" cy="219.2" r="1.7"/><circle cx="501.9" cy="215.5" r="1.7"/><circle cx="467.9" cy="257.0" r="1.7"/><circle cx="475.3" cy="244.6" r="1.7"/><circle cx="393.7" cy="313.4" r="1.7"/><circle cx="450.4" cy="264.0" r="1.7"/><circle cx="450.0" cy="264.3" r="1.7"/><circle cx="443.2" cy="268.5" r="1.7"/><circle cx="397.3" cy="315.3" r="1.7"/><circle cx="408.1" cy="297.9" r="1.7"/><circle cx="412.8" cy="300.1" r="1.7"/><circle cx="430.7" cy="282.6" r="1.7"/><circle cx="411.9" cy="297.8" r="1.7"/><circle cx="441.4" cy="271.1" r="1.7"/><circle cx="452.5" cy="261.5" r="1.7"/><circle cx="425.5" cy="287.4" r="1.7"/><circle cx="416.3" cy="295.2" r="1.7"/><circle cx="423.9" cy="287.0" r="1.7"/><circle cx="442.4" cy="266.7" r="1.7"/><circle cx="439.6" cy="270.3" r="1.7"/><circle cx="410.4" cy="299.5" r="1.7"/><circle cx="397.8" cy="313.8" r="1.7"/><circle cx="407.9" cy="301.8" r="1.7"/><circle cx="424.9" cy="287.7" r="1.7"/><circle cx="448.8" cy="264.7" r="1.7"/><circle cx="398.7" cy="312.1" r="1.7"/><circle cx="435.7" cy="275.2" r="1.7"/><circle cx="416.6" cy="290.3" r="1.7"/><circle cx="440.4" cy="270.8" r="1.7"/><circle cx="400.3" cy="307.9" r="1.7"/><circle cx="426.0" cy="284.9" r="1.7"/><circle cx="404.6" cy="305.6" r="1.7"/><circle cx="403.1" cy="305.8" r="1.7"/><circle cx="408.8" cy="299.9" r="1.7"/><circle cx="424.3" cy="289.3" r="1.7"/><circle cx="433.9" cy="278.1" r="1.7"/><circle cx="423.1" cy="285.9" r="1.7"/><circle cx="450.8" cy="263.3" r="1.7"/><circle cx="401.0" cy="312.8" r="1.7"/><circle cx="430.1" cy="281.6" r="1.7"/><circle cx="445.5" cy="266.1" r="1.7"/><circle cx="441.7" cy="270.7" r="1.7"/><circle cx="428.8" cy="280.7" r="1.7"/><circle cx="415.9" cy="295.4" r="1.7"/><circle cx="406.3" cy="299.9" r="1.7"/><circle cx="406.1" cy="304.3" r="1.7"/><circle cx="435.2" cy="277.8" r="1.7"/><circle cx="405.3" cy="302.4" r="1.7"/><circle cx="397.2" cy="313.2" r="1.7"/><circle cx="426.2" cy="283.6" r="1.7"/><circle cx="401.8" cy="305.1" r="1.7"/><circle cx="408.5" cy="303.0" r="1.7"/><circle cx="410.4" cy="297.3" r="1.7"/><circle cx="421.6" cy="288.0" r="1.7"/><circle cx="415.7" cy="297.2" r="1.7"/><circle cx="408.1" cy="304.3" r="1.7"/><circle cx="419.4" cy="290.0" r="1.7"/><circle cx="446.8" cy="265.0" r="1.7"/><circle cx="390.9" cy="314.5" r="1.7"/><circle cx="451.1" cy="264.3" r="1.7"/><circle cx="414.5" cy="294.5" r="1.7"/><circle cx="406.5" cy="299.1" r="1.7"/><circle cx="396.1" cy="309.9" r="1.7"/><circle cx="453.2" cy="260.7" r="1.7"/><circle cx="453.1" cy="261.0" r="1.7"/><circle cx="396.7" cy="312.2" r="1.7"/><circle cx="446.9" cy="261.6" r="1.7"/><circle cx="402.3" cy="305.7" r="1.7"/><circle cx="419.1" cy="290.2" r="1.7"/><circle cx="403.8" cy="306.9" r="1.7"/><circle cx="424.1" cy="286.5" r="1.7"/><circle cx="407.1" cy="298.5" r="1.7"/><circle cx="392.3" cy="312.7" r="1.7"/><circle cx="394.8" cy="313.2" r="1.7"/></g>
<path d="M388.9 320.79L513.3 197.78" stroke="#000" stroke-width="1.15" fill="none"/>
<path d="M388.9 320.74L513.3 203.41" stroke="#ff2020" stroke-width="1.3" fill="none" stroke-dasharray="3.3 1.4"/>
</g>
<rect x="388.9" y="190.6" width="126.0" height="134.80" fill="none" stroke="#505050" stroke-width="0.75"/>
<path d="M390.00 325.4v2.1M415.35 325.4v2.1M440.70 325.4v2.1M466.05 325.4v2.1M491.40 325.4v2.1M388.9 319.70h-2.1M388.9 294.34h-2.1M388.9 268.98h-2.1M388.9 243.62h-2.1M388.9 218.26h-2.1M388.9 192.90h-2.1" stroke="#222" stroke-width="0.7" fill="none"/>
<text x="390.00" y="334.50" font-size="6.3" text-anchor="middle" stroke="#000" stroke-width="0.18">0</text>
<text x="415.35" y="334.50" font-size="6.3" text-anchor="middle" stroke="#000" stroke-width="0.18">2</text>
<text x="440.70" y="334.50" font-size="6.3" text-anchor="middle" stroke="#000" stroke-width="0.18">4</text>
<text x="466.05" y="334.50" font-size="6.3" text-anchor="middle" stroke="#000" stroke-width="0.18">6</text>
<text x="491.40" y="334.50" font-size="6.3" text-anchor="middle" stroke="#000" stroke-width="0.18">8</text>
<text x="384.90" y="321.80" font-size="6.3" text-anchor="end" stroke="#000" stroke-width="0.18">0</text>
<text x="384.90" y="296.44" font-size="6.3" text-anchor="end" stroke="#000" stroke-width="0.18">2</text>
<text x="384.90" y="271.08" font-size="6.3" text-anchor="end" stroke="#000" stroke-width="0.18">4</text>
<text x="384.90" y="245.72" font-size="6.3" text-anchor="end" stroke="#000" stroke-width="0.18">6</text>
<text x="384.90" y="220.36" font-size="6.3" text-anchor="end" stroke="#000" stroke-width="0.18">8</text>
<text x="384.90" y="195.00" font-size="6.3" text-anchor="end" stroke="#000" stroke-width="0.18">10</text>
<text x="451.90" y="345.40" font-size="10.2" text-anchor="middle" stroke="#000" stroke-width="0.2" textLength="82.7" lengthAdjust="spacingAndGlyphs">Reference Ct.Po</text>
<text x="373.50" y="258.00" font-size="10.2" text-anchor="middle" stroke="#000" stroke-width="0.2" transform="rotate(-90 373.50 258.00)" textLength="80.7" lengthAdjust="spacingAndGlyphs">Predicted Ct.Po</text>
<clipPath id="c13"><rect x="555.6" y="190.6" width="126.0" height="134.79999999999998"/></clipPath>
<path d="M582.00 190.6V325.4M609.03 190.6V325.4M636.07 190.6V325.4M663.10 190.6V325.4M555.6 320.50H681.6M555.6 299.78H681.6M555.6 279.07H681.6M555.6 258.35H681.6M555.6 237.63H681.6M555.6 216.92H681.6M555.6 196.20H681.6" stroke="#b0b0b0" stroke-width="0.6" fill="none"/>
<g clip-path="url(#c13)">
<g fill="#000" stroke="#fff" stroke-width="0.3"><circle cx="589.0" cy="207.3" r="1.7"/><circle cx="634.6" cy="196.7" r="1.7"/><circle cx="599.4" cy="238.3" r="1.7"/><circle cx="649.0" cy="249.0" r="1.7"/><circle cx="652.7" cy="243.3" r="1.7"/><circle cx="656.4" cy="265.6" r="1.7"/><circle cx="656.4" cy="273.8" r="1.7"/><circle cx="665.1" cy="275.1" r="1.7"/><circle cx="670.1" cy="283.0" r="1.7"/><circle cx="650.2" cy="296.7" r="1.7"/><circle cx="640.3" cy="294.2" r="1.7"/><circle cx="629.1" cy="311.5" r="1.7"/><circle cx="655.7" cy="319.0" r="1.7"/><circle cx="621.7" cy="290.5" r="1.7"/><circle cx="607.3" cy="302.1" r="1.7"/><circle cx="596.1" cy="300.9" r="1.7"/><circle cx="591.4" cy="292.9" r="1.7"/><circle cx="563.5" cy="240.7" r="1.7"/><circle cx="599.7" cy="240.0" r="1.7"/><circle cx="604.9" cy="245.3" r="1.7"/><circle cx="612.2" cy="245.3" r="1.7"/><circle cx="613.5" cy="248.5" r="1.7"/><circle cx="622.0" cy="248.9" r="1.7"/><circle cx="631.2" cy="244.6" r="1.7"/><circle cx="639.1" cy="248.9" r="1.7"/><circle cx="641.7" cy="240.7" r="1.7"/><circle cx="562.9" cy="251.2" r="1.7"/><circle cx="563.5" cy="253.8" r="1.7"/><circle cx="576.0" cy="251.2" r="1.7"/><circle cx="579.3" cy="253.8" r="1.7"/><circle cx="583.2" cy="249.9" r="1.7"/><circle cx="585.9" cy="253.8" r="1.7"/><circle cx="594.4" cy="249.9" r="1.7"/><circle cx="600.3" cy="249.2" r="1.7"/><circle cx="595.7" cy="252.5" r="1.7"/><circle cx="598.4" cy="255.1" r="1.7"/><circle cx="606.9" cy="251.8" r="1.7"/><circle cx="604.9" cy="256.4" r="1.7"/><circle cx="558.9" cy="258.4" r="1.7"/><circle cx="562.2" cy="257.1" r="1.7"/><circle cx="565.5" cy="255.8" r="1.7"/><circle cx="568.1" cy="258.4" r="1.7"/><circle cx="571.4" cy="254.5" r="1.7"/><circle cx="574.7" cy="255.8" r="1.7"/><circle cx="578.0" cy="257.7" r="1.7"/><circle cx="581.3" cy="257.1" r="1.7"/><circle cx="585.2" cy="258.4" r="1.7"/><circle cx="588.5" cy="259.1" r="1.7"/><circle cx="591.1" cy="255.8" r="1.7"/><circle cx="594.4" cy="257.1" r="1.7"/><circle cx="599.0" cy="257.7" r="1.7"/><circle cx="602.3" cy="257.1" r="1.7"/><circle cx="605.6" cy="257.1" r="1.7"/><circle cx="608.2" cy="259.1" r="1.7"/><circle cx="616.8" cy="256.4" r="1.7"/><circle cx="620.7" cy="254.5" r="1.7"/><circle cx="622.7" cy="253.1" r="1.7"/><circle cx="619.4" cy="259.7" r="1.7"/><circle cx="560.3" cy="261.0" r="1.7"/><circle cx="564.2" cy="261.0" r="1.7"/><circle cx="567.5" cy="260.4" r="1.7"/><circle cx="570.1" cy="261.7" r="1.7"/><circle cx="573.4" cy="260.4" r="1.7"/><circle cx="576.7" cy="261.0" r="1.7"/><circle cx="580.0" cy="260.4" r="1.7"/><circle cx="583.2" cy="261.7" r="1.7"/><circle cx="586.5" cy="259.7" r="1.7"/><circle cx="589.8" cy="260.4" r="1.7"/><circle cx="593.1" cy="261.0" r="1.7"/><circle cx="597.0" cy="261.7" r="1.7"/><circle cx="601.0" cy="260.4" r="1.7"/><circle cx="604.9" cy="259.7" r="1.7"/><circle cx="608.9" cy="261.0" r="1.7"/><circle cx="558.9" cy="263.6" r="1.7"/><circle cx="562.9" cy="264.3" r="1.7"/><circle cx="567.5" cy="264.3" r="1.7"/><circle cx="572.1" cy="263.6" r="1.7"/><circle cx="576.0" cy="263.0" r="1.7"/><circle cx="579.3" cy="264.3" r="1.7"/><circle cx="583.2" cy="263.6" r="1.7"/><circle cx="587.8" cy="264.3" r="1.7"/><circle cx="591.1" cy="263.0" r="1.7"/><circle cx="599.7" cy="263.6" r="1.7"/><circle cx="606.9" cy="262.3" r="1.7"/><circle cx="610.8" cy="263.6" r="1.7"/><circle cx="614.1" cy="263.6" r="1.7"/><circle cx="619.4" cy="263.0" r="1.7"/><circle cx="624.6" cy="263.6" r="1.7"/><circle cx="633.8" cy="262.3" r="1.7"/><circle cx="635.8" cy="265.0" r="1.7"/><circle cx="639.7" cy="261.0" r="1.7"/><circle cx="561.6" cy="266.3" r="1.7"/><circle cx="565.5" cy="270.2" r="1.7"/><circle cx="570.8" cy="270.9" r="1.7"/><circle cx="573.4" cy="268.2" r="1.7"/><circle cx="577.3" cy="268.9" r="1.7"/><circle cx="578.6" cy="271.5" r="1.7"/><circle cx="583.2" cy="269.6" r="1.7"/><circle cx="583.9" cy="272.2" r="1.7"/><circle cx="587.8" cy="267.6" r="1.7"/><circle cx="590.5" cy="268.2" r="1.7"/><circle cx="593.8" cy="267.6" r="1.7"/><circle cx="597.0" cy="268.2" r="1.7"/><circle cx="599.7" cy="271.5" r="1.7"/><circle cx="603.0" cy="272.2" r="1.7"/><circle cx="604.9" cy="265.6" r="1.7"/><circle cx="612.2" cy="272.2" r="1.7"/><circle cx="615.4" cy="272.8" r="1.7"/><circle cx="603.6" cy="274.2" r="1.7"/><circle cx="604.9" cy="274.8" r="1.7"/><circle cx="628.6" cy="272.2" r="1.7"/><circle cx="641.1" cy="272.2" r="1.7"/><circle cx="586.5" cy="276.8" r="1.7"/><circle cx="591.1" cy="277.4" r="1.7"/><circle cx="593.8" cy="276.8" r="1.7"/><circle cx="597.7" cy="278.1" r="1.7"/><circle cx="609.5" cy="277.4" r="1.7"/><circle cx="621.4" cy="278.8" r="1.7"/><circle cx="606.9" cy="282.7" r="1.7"/><circle cx="593.1" cy="282.0" r="1.7"/><circle cx="625.9" cy="281.4" r="1.7"/><circle cx="627.9" cy="285.3" r="1.7"/><circle cx="639.7" cy="278.8" r="1.7"/><circle cx="580.6" cy="278.1" r="1.7"/><circle cx="580.0" cy="286.6" r="1.7"/><circle cx="592.4" cy="285.3" r="1.7"/><circle cx="586.2" cy="260.3" r="1.7"/><circle cx="572.4" cy="263.2" r="1.7"/><circle cx="578.0" cy="258.7" r="1.7"/><circle cx="578.6" cy="262.0" r="1.7"/><circle cx="581.0" cy="266.6" r="1.7"/><circle cx="594.7" cy="262.3" r="1.7"/><circle cx="580.2" cy="262.5" r="1.7"/><circle cx="578.2" cy="263.2" r="1.7"/><circle cx="582.0" cy="262.6" r="1.7"/><circle cx="561.9" cy="255.9" r="1.7"/><circle cx="582.0" cy="262.7" r="1.7"/><circle cx="575.8" cy="260.9" r="1.7"/><circle cx="598.3" cy="261.7" r="1.7"/><circle cx="596.3" cy="269.8" r="1.7"/><circle cx="581.1" cy="259.7" r="1.7"/><circle cx="565.8" cy="254.4" r="1.7"/><circle cx="561.1" cy="265.1" r="1.7"/><circle cx="565.5" cy="259.7" r="1.7"/><circle cx="596.3" cy="264.6" r="1.7"/><circle cx="601.2" cy="264.2" r="1.7"/><circle cx="581.8" cy="262.3" r="1.7"/><circle cx="566.6" cy="267.2" r="1.7"/><circle cx="589.9" cy="260.6" r="1.7"/><circle cx="594.9" cy="264.2" r="1.7"/><circle cx="587.9" cy="266.3" r="1.7"/></g>
<path d="M555.6 258.1H681.6" stroke="#555555" stroke-width="1.4" fill="none"/>
<path d="M555.6 263.5H681.6" stroke="#ff0000" stroke-width="1.0" fill="none"/>
<path d="M555.6 237.6H681.6" stroke="#ff2020" stroke-width="1.3" fill="none" stroke-dasharray="3.3 1.4"/>
<path d="M555.6 289.2H681.6" stroke="#ff2020" stroke-width="1.3" fill="none" stroke-dasharray="3.3 1.4"/>
</g>
<rect x="555.6" y="190.6" width="126.0" height="134.80" fill="none" stroke="#505050" stroke-width="0.75"/>
<path d="M582.00 325.4v2.1M609.03 325.4v2.1M636.07 325.4v2.1M663.10 325.4v2.1M555.6 320.50h-2.1M555.6 299.78h-2.1M555.6 279.07h-2.1M555.6 258.35h-2.1M555.6 237.63h-2.1M555.6 216.92h-2.1M555.6 196.20h-2.1" stroke="#222" stroke-width="0.7" fill="none"/>
<text x="582.00" y="334.50" font-size="6.3" text-anchor="middle" stroke="#000" stroke-width="0.18">2</text>
<text x="609.03" y="334.50" font-size="6.3" text-anchor="middle" stroke="#000" stroke-width="0.18">4</text>
<text x="636.07" y="334.50" font-size="6.3" text-anchor="middle" stroke="#000" stroke-width="0.18">6</text>
<text x="663.10" y="334.50" font-size="6.3" text-anchor="middle" stroke="#000" stroke-width="0.18">8</text>
<text x="551.60" y="322.60" font-size="6.3" text-anchor="end" stroke="#000" stroke-width="0.18">−1.5</text>
<text x="551.60" y="301.88" font-size="6.3" text-anchor="end" stroke="#000" stroke-width="0.18">−1.0</text>
<text x="551.60" y="281.17" font-size="6.3" text-anchor="end" stroke="#000" stroke-width="0.18">−0.5</text>
<text x="551.60" y="260.45" font-size="6.3" text-anchor="end" stroke="#000" stroke-width="0.18">0.0</text>
<text x="551.60" y="239.73" font-size="6.3" text-anchor="end" stroke="#000" stroke-width="0.18">0.5</text>
<text x="551.60" y="219.02" font-size="6.3" text-anchor="end" stroke="#000" stroke-width="0.18">1.0</text>
<text x="551.60" y="198.30" font-size="6.3" text-anchor="end" stroke="#000" stroke-width="0.18">1.5</text>
<text x="618.60" y="345.40" font-size="10.2" text-anchor="middle" stroke="#000" stroke-width="0.2" textLength="58.2" lengthAdjust="spacingAndGlyphs">Mean Ct.Po</text>
<text x="532.40" y="258.00" font-size="10.2" text-anchor="middle" stroke="#000" stroke-width="0.2" transform="rotate(-90 532.40 258.00)" textLength="120.7" lengthAdjust="spacingAndGlyphs">Difference (Pred. - Ref.)</text>
<clipPath id="c20"><rect x="55.5" y="355.4" width="126.0" height="134.90000000000003"/></clipPath>
<path d="M64.40 355.4V490.3M96.90 355.4V490.3M129.40 355.4V490.3M161.90 355.4V490.3M55.5 477.30H181.5M55.5 460.89H181.5M55.5 444.47H181.5M55.5 428.06H181.5M55.5 411.64H181.5M55.5 395.23H181.5M55.5 378.81H181.5M55.5 362.40H181.5" stroke="#b0b0b0" stroke-width="0.6" fill="none"/>
<g clip-path="url(#c20)">
<g fill="#000" stroke="#fff" stroke-width="0.3"><circle cx="92.0" cy="430.6" r="1.7"/><circle cx="101.9" cy="433.1" r="1.7"/><circle cx="108.1" cy="435.6" r="1.7"/><circle cx="115.5" cy="431.4" r="1.7"/><circle cx="166.4" cy="375.6" r="1.7"/><circle cx="147.8" cy="392.2" r="1.7"/><circle cx="135.4" cy="409.6" r="1.7"/><circle cx="136.6" cy="406.6" r="1.7"/><circle cx="131.7" cy="407.6" r="1.7"/><circle cx="125.5" cy="415.0" r="1.7"/><circle cx="82.0" cy="455.5" r="1.7"/><circle cx="64.7" cy="476.6" r="1.7"/><circle cx="59.7" cy="480.3" r="1.7"/><circle cx="69.6" cy="471.6" r="1.7"/><circle cx="77.1" cy="464.1" r="1.7"/><circle cx="87.0" cy="451.7" r="1.7"/><circle cx="92.0" cy="448.0" r="1.7"/><circle cx="99.4" cy="441.8" r="1.7"/><circle cx="113.1" cy="429.4" r="1.7"/><circle cx="119.3" cy="424.4" r="1.7"/><circle cx="129.2" cy="415.8" r="1.7"/><circle cx="139.1" cy="404.6" r="1.7"/><circle cx="142.8" cy="397.1" r="1.7"/><circle cx="106.4" cy="433.9" r="1.7"/><circle cx="69.5" cy="472.0" r="1.7"/><circle cx="93.6" cy="447.5" r="1.7"/><circle cx="143.8" cy="397.7" r="1.7"/><circle cx="124.7" cy="416.9" r="1.7"/><circle cx="124.0" cy="418.8" r="1.7"/><circle cx="80.7" cy="458.6" r="1.7"/><circle cx="109.6" cy="431.4" r="1.7"/><circle cx="60.4" cy="480.7" r="1.7"/><circle cx="111.9" cy="429.5" r="1.7"/><circle cx="136.3" cy="406.1" r="1.7"/><circle cx="115.5" cy="426.1" r="1.7"/><circle cx="90.5" cy="451.4" r="1.7"/><circle cx="78.5" cy="461.7" r="1.7"/><circle cx="77.0" cy="463.4" r="1.7"/><circle cx="71.8" cy="469.4" r="1.7"/><circle cx="73.2" cy="468.7" r="1.7"/><circle cx="134.2" cy="407.4" r="1.7"/><circle cx="83.1" cy="458.7" r="1.7"/><circle cx="107.4" cy="434.3" r="1.7"/><circle cx="98.4" cy="443.4" r="1.7"/><circle cx="81.2" cy="459.9" r="1.7"/><circle cx="104.9" cy="436.5" r="1.7"/><circle cx="65.0" cy="475.8" r="1.7"/><circle cx="107.1" cy="434.6" r="1.7"/><circle cx="76.5" cy="463.8" r="1.7"/><circle cx="114.6" cy="426.8" r="1.7"/><circle cx="86.3" cy="455.0" r="1.7"/><circle cx="135.7" cy="405.7" r="1.7"/><circle cx="61.0" cy="479.7" r="1.7"/><circle cx="99.5" cy="441.4" r="1.7"/><circle cx="79.5" cy="462.1" r="1.7"/><circle cx="62.9" cy="478.2" r="1.7"/><circle cx="119.5" cy="422.0" r="1.7"/><circle cx="82.2" cy="458.4" r="1.7"/><circle cx="126.7" cy="414.8" r="1.7"/><circle cx="114.9" cy="427.0" r="1.7"/><circle cx="135.2" cy="407.2" r="1.7"/><circle cx="80.0" cy="460.0" r="1.7"/><circle cx="123.0" cy="419.2" r="1.7"/><circle cx="88.0" cy="454.3" r="1.7"/><circle cx="113.4" cy="427.4" r="1.7"/><circle cx="142.4" cy="399.0" r="1.7"/><circle cx="119.6" cy="422.0" r="1.7"/><circle cx="121.2" cy="420.0" r="1.7"/><circle cx="77.9" cy="462.9" r="1.7"/><circle cx="137.5" cy="404.6" r="1.7"/><circle cx="69.4" cy="471.7" r="1.7"/><circle cx="72.2" cy="469.0" r="1.7"/><circle cx="118.4" cy="422.3" r="1.7"/><circle cx="123.2" cy="419.4" r="1.7"/><circle cx="91.2" cy="449.6" r="1.7"/><circle cx="136.6" cy="406.6" r="1.7"/><circle cx="137.9" cy="404.2" r="1.7"/><circle cx="77.6" cy="463.7" r="1.7"/><circle cx="132.3" cy="409.3" r="1.7"/><circle cx="129.9" cy="411.5" r="1.7"/><circle cx="69.1" cy="472.9" r="1.7"/><circle cx="77.2" cy="464.1" r="1.7"/><circle cx="61.8" cy="479.4" r="1.7"/><circle cx="120.6" cy="421.2" r="1.7"/><circle cx="141.1" cy="400.1" r="1.7"/><circle cx="113.0" cy="429.1" r="1.7"/><circle cx="97.2" cy="443.9" r="1.7"/><circle cx="119.6" cy="421.7" r="1.7"/><circle cx="134.0" cy="409.1" r="1.7"/><circle cx="74.8" cy="466.5" r="1.7"/><circle cx="124.8" cy="417.0" r="1.7"/><circle cx="100.9" cy="439.8" r="1.7"/><circle cx="75.3" cy="465.4" r="1.7"/></g>
<path d="M55.5 485.20L179.9 362.77" stroke="#000" stroke-width="1.2" fill="none"/>
<path d="M55.5 485.20L179.9 362.77" stroke="#ff0000" stroke-width="1.3" fill="none" stroke-dasharray="3.3 1.4"/>
</g>
<rect x="55.5" y="355.4" width="126.0" height="134.90" fill="none" stroke="#505050" stroke-width="0.75"/>
<path d="M64.40 490.3v2.1M96.90 490.3v2.1M129.40 490.3v2.1M161.90 490.3v2.1M55.5 477.30h-2.1M55.5 460.89h-2.1M55.5 444.47h-2.1M55.5 428.06h-2.1M55.5 411.64h-2.1M55.5 395.23h-2.1M55.5 378.81h-2.1M55.5 362.40h-2.1" stroke="#222" stroke-width="0.7" fill="none"/>
<text x="64.40" y="499.40" font-size="6.3" text-anchor="middle" stroke="#000" stroke-width="0.18">10</text>
<text x="96.90" y="499.40" font-size="6.3" text-anchor="middle" stroke="#000" stroke-width="0.18">20</text>
<text x="129.40" y="499.40" font-size="6.3" text-anchor="middle" stroke="#000" stroke-width="0.18">30</text>
<text x="161.90" y="499.40" font-size="6.3" text-anchor="middle" stroke="#000" stroke-width="0.18">40</text>
<text x="51.50" y="479.40" font-size="6.3" text-anchor="end" stroke="#000" stroke-width="0.18">10</text>
<text x="51.50" y="462.99" font-size="6.3" text-anchor="end" stroke="#000" stroke-width="0.18">15</text>
<text x="51.50" y="446.57" font-size="6.3" text-anchor="end" stroke="#000" stroke-width="0.18">20</text>
<text x="51.50" y="430.16" font-size="6.3" text-anchor="end" stroke="#000" stroke-width="0.18">25</text>
<text x="51.50" y="413.74" font-size="6.3" text-anchor="end" stroke="#000" stroke-width="0.18">30</text>
<text x="51.50" y="397.33" font-size="6.3" text-anchor="end" stroke="#000" stroke-width="0.18">35</text>
<text x="51.50" y="380.91" font-size="6.3" text-anchor="end" stroke="#000" stroke-width="0.18">40</text>
<text x="51.50" y="364.50" font-size="6.3" text-anchor="end" stroke="#000" stroke-width="0.18">45</text>
<text x="118.50" y="510.30" font-size="10.2" text-anchor="middle" stroke="#000" stroke-width="0.2" textLength="103.2" lengthAdjust="spacingAndGlyphs">Reference Tb.BV/TV</text>
<text x="40.00" y="422.85" font-size="10.2" text-anchor="middle" stroke="#000" stroke-width="0.2" transform="rotate(-90 40.00 422.85)" textLength="99.7" lengthAdjust="spacingAndGlyphs">Predicted Tb.BV/TV</text>
<clipPath id="c21"><rect x="222.5" y="355.4" width="126.0" height="134.90000000000003"/></clipPath>
<path d="M229.20 355.4V490.3M263.03 355.4V490.3M296.87 355.4V490.3M330.70 355.4V490.3M222.5 489.00H348.5M222.5 466.95H348.5M222.5 444.90H348.5M222.5 422.85H348.5M222.5 400.80H348.5M222.5 378.75H348.5M222.5 356.70H348.5" stroke="#b0b0b0" stroke-width="0.6" fill="none"/>
<g clip-path="url(#c21)">
<g fill="#000" stroke="#fff" stroke-width="0.3"><circle cx="267.4" cy="361.4" r="1.7"/><circle cx="271.4" cy="402.6" r="1.7"/><circle cx="250.0" cy="411.0" r="1.7"/><circle cx="271.4" cy="415.0" r="1.7"/><circle cx="252.5" cy="415.8" r="1.7"/><circle cx="316.5" cy="416.5" r="1.7"/><circle cx="333.9" cy="425.7" r="1.7"/><circle cx="252.0" cy="428.9" r="1.7"/><circle cx="273.1" cy="431.9" r="1.7"/><circle cx="279.3" cy="440.1" r="1.7"/><circle cx="300.4" cy="435.1" r="1.7"/><circle cx="303.6" cy="432.4" r="1.7"/><circle cx="294.2" cy="428.2" r="1.7"/><circle cx="297.9" cy="428.2" r="1.7"/><circle cx="278.1" cy="428.2" r="1.7"/><circle cx="266.9" cy="426.9" r="1.7"/><circle cx="315.3" cy="424.4" r="1.7"/><circle cx="234.6" cy="418.2" r="1.7"/><circle cx="239.6" cy="417.5" r="1.7"/><circle cx="243.3" cy="419.0" r="1.7"/><circle cx="224.7" cy="422.0" r="1.7"/><circle cx="228.4" cy="424.4" r="1.7"/><circle cx="235.9" cy="423.2" r="1.7"/><circle cx="257.0" cy="418.2" r="1.7"/><circle cx="259.4" cy="417.0" r="1.7"/><circle cx="292.9" cy="418.2" r="1.7"/><circle cx="306.6" cy="419.5" r="1.7"/><circle cx="300.9" cy="426.8" r="1.7"/><circle cx="251.5" cy="425.0" r="1.7"/><circle cx="270.8" cy="423.8" r="1.7"/><circle cx="233.3" cy="419.0" r="1.7"/><circle cx="296.8" cy="420.6" r="1.7"/><circle cx="262.1" cy="424.6" r="1.7"/><circle cx="233.8" cy="421.7" r="1.7"/><circle cx="244.6" cy="426.3" r="1.7"/><circle cx="271.1" cy="424.9" r="1.7"/><circle cx="247.0" cy="422.6" r="1.7"/><circle cx="293.9" cy="419.1" r="1.7"/><circle cx="257.4" cy="423.0" r="1.7"/><circle cx="301.9" cy="419.2" r="1.7"/><circle cx="241.3" cy="423.3" r="1.7"/><circle cx="278.1" cy="423.6" r="1.7"/><circle cx="305.7" cy="423.3" r="1.7"/><circle cx="253.1" cy="418.3" r="1.7"/><circle cx="239.9" cy="423.3" r="1.7"/><circle cx="255.4" cy="421.8" r="1.7"/><circle cx="255.5" cy="427.0" r="1.7"/><circle cx="291.6" cy="425.1" r="1.7"/><circle cx="235.1" cy="425.8" r="1.7"/><circle cx="297.5" cy="419.9" r="1.7"/><circle cx="243.7" cy="421.3" r="1.7"/><circle cx="244.6" cy="422.3" r="1.7"/><circle cx="261.9" cy="419.0" r="1.7"/><circle cx="271.0" cy="420.4" r="1.7"/><circle cx="238.8" cy="420.8" r="1.7"/><circle cx="292.7" cy="420.8" r="1.7"/><circle cx="277.7" cy="419.9" r="1.7"/><circle cx="246.6" cy="417.9" r="1.7"/><circle cx="295.7" cy="418.3" r="1.7"/><circle cx="287.2" cy="420.3" r="1.7"/><circle cx="254.2" cy="421.3" r="1.7"/><circle cx="263.8" cy="418.9" r="1.7"/><circle cx="282.7" cy="424.1" r="1.7"/><circle cx="267.0" cy="420.6" r="1.7"/><circle cx="286.8" cy="421.5" r="1.7"/><circle cx="284.9" cy="420.0" r="1.7"/><circle cx="270.1" cy="421.9" r="1.7"/><circle cx="274.9" cy="425.0" r="1.7"/><circle cx="310.7" cy="421.9" r="1.7"/><circle cx="277.7" cy="421.2" r="1.7"/><circle cx="272.1" cy="419.1" r="1.7"/><circle cx="273.0" cy="424.6" r="1.7"/><circle cx="244.9" cy="420.2" r="1.7"/><circle cx="294.6" cy="426.0" r="1.7"/><circle cx="258.0" cy="422.6" r="1.7"/><circle cx="262.0" cy="422.2" r="1.7"/><circle cx="263.8" cy="420.2" r="1.7"/><circle cx="249.9" cy="425.2" r="1.7"/><circle cx="310.6" cy="421.8" r="1.7"/><circle cx="298.1" cy="422.9" r="1.7"/><circle cx="237.6" cy="418.4" r="1.7"/><circle cx="283.1" cy="422.5" r="1.7"/><circle cx="246.3" cy="421.6" r="1.7"/><circle cx="283.5" cy="418.7" r="1.7"/><circle cx="268.1" cy="424.4" r="1.7"/><circle cx="237.3" cy="420.4" r="1.7"/><circle cx="302.6" cy="423.9" r="1.7"/><circle cx="248.8" cy="422.6" r="1.7"/><circle cx="226.2" cy="420.4" r="1.7"/><circle cx="248.0" cy="424.2" r="1.7"/><circle cx="264.6" cy="419.8" r="1.7"/><circle cx="258.6" cy="420.3" r="1.7"/><circle cx="231.1" cy="418.2" r="1.7"/><circle cx="296.6" cy="424.9" r="1.7"/><circle cx="283.0" cy="422.0" r="1.7"/><circle cx="311.7" cy="420.7" r="1.7"/><circle cx="235.1" cy="423.1" r="1.7"/><circle cx="295.9" cy="422.9" r="1.7"/><circle cx="307.4" cy="420.8" r="1.7"/><circle cx="306.2" cy="419.8" r="1.7"/><circle cx="286.2" cy="419.8" r="1.7"/><circle cx="301.5" cy="424.9" r="1.7"/><circle cx="273.8" cy="419.9" r="1.7"/><circle cx="305.4" cy="421.5" r="1.7"/><circle cx="247.1" cy="423.8" r="1.7"/><circle cx="231.3" cy="422.2" r="1.7"/><circle cx="270.2" cy="422.0" r="1.7"/></g>
<path d="M222.5 422.4H348.5" stroke="#000" stroke-width="1.5" fill="none"/>
<path d="M222.5 422.4H348.5" stroke="#d80000" stroke-width="1.1" fill="none"/>
<path d="M222.5 411.3H348.5" stroke="#ff2020" stroke-width="1.3" fill="none" stroke-dasharray="3.3 1.4"/>
<path d="M222.5 433.1H348.5" stroke="#ff2020" stroke-width="1.3" fill="none" stroke-dasharray="3.3 1.4"/>
</g>
<rect x="222.5" y="355.4" width="126.0" height="134.90" fill="none" stroke="#505050" stroke-width="0.75"/>
<path d="M229.20 490.3v2.1M263.03 490.3v2.1M296.87 490.3v2.1M330.70 490.3v2.1M222.5 489.00h-2.1M222.5 466.95h-2.1M222.5 444.90h-2.1M222.5 422.85h-2.1M222.5 400.80h-2.1M222.5 378.75h-2.1M222.5 356.70h-2.1" stroke="#222" stroke-width="0.7" fill="none"/>
<text x="229.20" y="499.40" font-size="6.3" text-anchor="middle" stroke="#000" stroke-width="0.18">10</text>
<text x="263.03" y="499.40" font-size="6.3" text-anchor="middle" stroke="#000" stroke-width="0.18">20</text>
<text x="296.87" y="499.40" font-size="6.3" text-anchor="middle" stroke="#000" stroke-width="0.18">30</text>
<text x="330.70" y="499.40" font-size="6.3" text-anchor="middle" stroke="#000" stroke-width="0.18">40</text>
<text x="218.50" y="491.10" font-size="6.3" text-anchor="end" stroke="#000" stroke-width="0.18">−6</text>
<text x="218.50" y="469.05" font-size="6.3" text-anchor="end" stroke="#000" stroke-width="0.18">−4</text>
<text x="218.50" y="447.00" font-size="6.3" text-anchor="end" stroke="#000" stroke-width="0.18">−2</text>
<text x="218.50" y="424.95" font-size="6.3" text-anchor="end" stroke="#000" stroke-width="0.18">0</text>
<text x="218.50" y="402.90" font-size="6.3" text-anchor="end" stroke="#000" stroke-width="0.18">2</text>
<text x="218.50" y="380.85" font-size="6.3" text-anchor="end" stroke="#000" stroke-width="0.18">4</text>
<text x="218.50" y="358.80" font-size="6.3" text-anchor="end" stroke="#000" stroke-width="0.18">6</text>
<text x="285.50" y="510.30" font-size="10.2" text-anchor="middle" stroke="#000" stroke-width="0.2" textLength="78.2" lengthAdjust="spacingAndGlyphs">Mean Tb.BV/TV</text>
<text x="205.50" y="422.85" font-size="10.2" text-anchor="middle" stroke="#000" stroke-width="0.2" transform="rotate(-90 205.50 422.85)" textLength="120.7" lengthAdjust="spacingAndGlyphs">Difference (Pred. - Ref.)</text>
<clipPath id="c22"><rect x="388.9" y="355.4" width="126.0" height="134.90000000000003"/></clipPath>
<path d="M397.10 355.4V490.3M429.97 355.4V490.3M462.83 355.4V490.3M495.70 355.4V490.3M388.9 477.30H514.9M388.9 460.89H514.9M388.9 444.47H514.9M388.9 428.06H514.9M388.9 411.64H514.9M388.9 395.23H514.9M388.9 378.81H514.9M388.9 362.40H514.9" stroke="#b0b0b0" stroke-width="0.6" fill="none"/>
<g clip-path="url(#c22)">
<g fill="#000" stroke="#fff" stroke-width="0.3"><circle cx="405.1" cy="470.3" r="1.7"/><circle cx="415.8" cy="454.7" r="1.7"/><circle cx="424.4" cy="446.8" r="1.7"/><circle cx="429.4" cy="442.3" r="1.7"/><circle cx="444.3" cy="431.9" r="1.7"/><circle cx="445.5" cy="425.2" r="1.7"/><circle cx="476.6" cy="402.6" r="1.7"/><circle cx="487.7" cy="385.5" r="1.7"/><circle cx="492.7" cy="380.5" r="1.7"/><circle cx="470.5" cy="406.5" r="1.7"/><circle cx="438.9" cy="435.7" r="1.7"/><circle cx="467.5" cy="408.5" r="1.7"/><circle cx="477.6" cy="399.5" r="1.7"/><circle cx="453.0" cy="423.5" r="1.7"/><circle cx="456.3" cy="419.8" r="1.7"/><circle cx="478.0" cy="397.5" r="1.7"/><circle cx="473.0" cy="404.0" r="1.7"/><circle cx="451.0" cy="425.1" r="1.7"/><circle cx="431.2" cy="443.7" r="1.7"/><circle cx="462.7" cy="413.9" r="1.7"/><circle cx="435.2" cy="439.1" r="1.7"/><circle cx="426.5" cy="448.6" r="1.7"/><circle cx="442.2" cy="433.9" r="1.7"/><circle cx="477.6" cy="397.3" r="1.7"/><circle cx="429.0" cy="446.6" r="1.7"/><circle cx="448.0" cy="426.5" r="1.7"/><circle cx="406.9" cy="467.0" r="1.7"/><circle cx="445.9" cy="430.3" r="1.7"/><circle cx="404.9" cy="471.6" r="1.7"/><circle cx="449.8" cy="424.7" r="1.7"/><circle cx="472.6" cy="402.5" r="1.7"/><circle cx="451.4" cy="423.5" r="1.7"/><circle cx="455.9" cy="420.8" r="1.7"/><circle cx="438.8" cy="436.5" r="1.7"/><circle cx="418.6" cy="457.6" r="1.7"/><circle cx="473.2" cy="402.2" r="1.7"/><circle cx="466.7" cy="408.8" r="1.7"/><circle cx="423.4" cy="452.2" r="1.7"/><circle cx="427.6" cy="447.5" r="1.7"/><circle cx="475.6" cy="401.4" r="1.7"/><circle cx="407.7" cy="468.7" r="1.7"/><circle cx="448.2" cy="427.7" r="1.7"/><circle cx="404.6" cy="470.4" r="1.7"/><circle cx="475.8" cy="400.8" r="1.7"/><circle cx="435.9" cy="440.6" r="1.7"/><circle cx="420.2" cy="455.2" r="1.7"/><circle cx="404.3" cy="470.4" r="1.7"/><circle cx="478.3" cy="399.2" r="1.7"/><circle cx="414.6" cy="461.4" r="1.7"/><circle cx="422.4" cy="452.6" r="1.7"/><circle cx="407.9" cy="466.5" r="1.7"/><circle cx="469.0" cy="406.8" r="1.7"/><circle cx="451.6" cy="423.4" r="1.7"/><circle cx="474.8" cy="402.6" r="1.7"/><circle cx="458.6" cy="417.4" r="1.7"/><circle cx="453.5" cy="422.1" r="1.7"/><circle cx="427.6" cy="447.4" r="1.7"/><circle cx="469.3" cy="406.6" r="1.7"/><circle cx="431.5" cy="443.3" r="1.7"/><circle cx="456.0" cy="421.1" r="1.7"/><circle cx="431.2" cy="443.3" r="1.7"/><circle cx="435.1" cy="440.3" r="1.7"/><circle cx="476.0" cy="399.7" r="1.7"/><circle cx="427.5" cy="449.6" r="1.7"/><circle cx="457.7" cy="418.0" r="1.7"/><circle cx="451.0" cy="425.6" r="1.7"/><circle cx="449.5" cy="426.5" r="1.7"/><circle cx="471.0" cy="405.1" r="1.7"/><circle cx="450.5" cy="425.4" r="1.7"/><circle cx="425.9" cy="449.8" r="1.7"/><circle cx="435.3" cy="438.9" r="1.7"/><circle cx="472.4" cy="404.9" r="1.7"/><circle cx="466.1" cy="409.8" r="1.7"/><circle cx="425.4" cy="449.8" r="1.7"/><circle cx="456.4" cy="419.6" r="1.7"/><circle cx="409.6" cy="464.3" r="1.7"/><circle cx="419.2" cy="454.8" r="1.7"/><circle cx="421.2" cy="453.0" r="1.7"/><circle cx="439.5" cy="436.6" r="1.7"/><circle cx="461.2" cy="414.3" r="1.7"/><circle cx="411.0" cy="463.6" r="1.7"/><circle cx="420.8" cy="453.1" r="1.7"/><circle cx="470.7" cy="404.7" r="1.7"/><circle cx="448.9" cy="427.2" r="1.7"/><circle cx="417.6" cy="457.0" r="1.7"/><circle cx="446.4" cy="429.1" r="1.7"/><circle cx="417.0" cy="460.3" r="1.7"/><circle cx="433.0" cy="443.5" r="1.7"/><circle cx="464.2" cy="412.7" r="1.7"/><circle cx="430.1" cy="445.2" r="1.7"/><circle cx="407.6" cy="468.4" r="1.7"/><circle cx="440.6" cy="434.5" r="1.7"/><circle cx="462.1" cy="413.3" r="1.7"/><circle cx="462.9" cy="412.4" r="1.7"/><circle cx="423.6" cy="452.1" r="1.7"/><circle cx="417.9" cy="457.6" r="1.7"/><circle cx="446.7" cy="428.9" r="1.7"/><circle cx="476.1" cy="400.1" r="1.7"/><circle cx="449.3" cy="426.4" r="1.7"/><circle cx="476.9" cy="399.9" r="1.7"/><circle cx="453.4" cy="422.9" r="1.7"/><circle cx="433.6" cy="441.7" r="1.7"/><circle cx="477.8" cy="398.7" r="1.7"/><circle cx="406.9" cy="468.6" r="1.7"/><circle cx="473.4" cy="402.9" r="1.7"/><circle cx="407.8" cy="466.7" r="1.7"/><circle cx="453.3" cy="422.6" r="1.7"/><circle cx="415.0" cy="459.0" r="1.7"/><circle cx="455.2" cy="421.0" r="1.7"/><circle cx="461.9" cy="414.6" r="1.7"/><circle cx="423.9" cy="452.2" r="1.7"/><circle cx="416.8" cy="458.7" r="1.7"/><circle cx="456.3" cy="420.4" r="1.7"/><circle cx="419.9" cy="456.7" r="1.7"/><circle cx="421.7" cy="454.1" r="1.7"/><circle cx="471.9" cy="404.9" r="1.7"/><circle cx="412.2" cy="463.3" r="1.7"/><circle cx="451.3" cy="424.1" r="1.7"/><circle cx="465.9" cy="409.5" r="1.7"/><circle cx="414.9" cy="460.5" r="1.7"/><circle cx="458.0" cy="417.5" r="1.7"/><circle cx="470.1" cy="406.4" r="1.7"/><circle cx="415.7" cy="460.3" r="1.7"/><circle cx="429.7" cy="446.5" r="1.7"/><circle cx="428.4" cy="447.1" r="1.7"/><circle cx="479.4" cy="398.2" r="1.7"/><circle cx="454.9" cy="421.6" r="1.7"/><circle cx="425.7" cy="449.9" r="1.7"/><circle cx="433.5" cy="443.7" r="1.7"/></g>
<path d="M388.9 485.20L513.3 362.77" stroke="#000" stroke-width="1.2" fill="none"/>
<path d="M388.9 485.20L513.3 362.77" stroke="#ff0000" stroke-width="1.3" fill="none" stroke-dasharray="3.3 1.4"/>
</g>
<rect x="388.9" y="355.4" width="126.0" height="134.90" fill="none" stroke="#505050" stroke-width="0.75"/>
<path d="M397.10 490.3v2.1M429.97 490.3v2.1M462.83 490.3v2.1M495.70 490.3v2.1M388.9 477.30h-2.1M388.9 460.89h-2.1M388.9 444.47h-2.1M388.9 428.06h-2.1M388.9 411.64h-2.1M388.9 395.23h-2.1M388.9 378.81h-2.1M388.9 362.40h-2.1" stroke="#222" stroke-width="0.7" fill="none"/>
<text x="397.10" y="499.40" font-size="6.3" text-anchor="middle" stroke="#000" stroke-width="0.18">10</text>
<text x="429.97" y="499.40" font-size="6.3" text-anchor="middle" stroke="#000" stroke-width="0.18">20</text>
<text x="462.83" y="499.40" font-size="6.3" text-anchor="middle" stroke="#000" stroke-width="0.18">30</text>
<text x="495.70" y="499.40" font-size="6.3" text-anchor="middle" stroke="#000" stroke-width="0.18">40</text>
<text x="384.90" y="479.40" font-size="6.3" text-anchor="end" stroke="#000" stroke-width="0.18">10</text>
<text x="384.90" y="462.99" font-size="6.3" text-anchor="end" stroke="#000" stroke-width="0.18">15</text>
<text x="384.90" y="446.57" font-size="6.3" text-anchor="end" stroke="#000" stroke-width="0.18">20</text>
<text x="384.90" y="430.16" font-size="6.3" text-anchor="end" stroke="#000" stroke-width="0.18">25</text>
<text x="384.90" y="413.74" font-size="6.3" text-anchor="end" stroke="#000" stroke-width="0.18">30</text>
<text x="384.90" y="397.33" font-size="6.3" text-anchor="end" stroke="#000" stroke-width="0.18">35</text>
<text x="384.90" y="380.91" font-size="6.3" text-anchor="end" stroke="#000" stroke-width="0.18">40</text>
<text x="384.90" y="364.50" font-size="6.3" text-anchor="end" stroke="#000" stroke-width="0.18">45</text>
<text x="451.90" y="510.30" font-size="10.2" text-anchor="middle" stroke="#000" stroke-width="0.2" textLength="103.2" lengthAdjust="spacingAndGlyphs">Reference Tb.BV/TV</text>
<text x="373.50" y="422.85" font-size="10.2" text-anchor="middle" stroke="#000" stroke-width="0.2" transform="rotate(-90 373.50 422.85)" textLength="99.7" lengthAdjust="spacingAndGlyphs">Predicted Tb.BV/TV</text>
<clipPath id="c23"><rect x="555.6" y="355.4" width="126.0" height="134.90000000000003"/></clipPath>
<path d="M562.10 355.4V490.3M596.03 355.4V490.3M629.97 355.4V490.3M663.90 355.4V490.3M555.6 489.00H681.6M555.6 466.95H681.6M555.6 444.90H681.6M555.6 422.85H681.6M555.6 400.80H681.6M555.6 378.75H681.6M555.6 356.70H681.6" stroke="#b0b0b0" stroke-width="0.6" fill="none"/>
<g clip-path="url(#c23)">
<g fill="#000" stroke="#fff" stroke-width="0.3"><circle cx="583.4" cy="409.1" r="1.7"/><circle cx="591.4" cy="410.9" r="1.7"/><circle cx="596.5" cy="412.7" r="1.7"/><circle cx="607.4" cy="411.7" r="1.7"/><circle cx="614.7" cy="414.2" r="1.7"/><circle cx="585.5" cy="415.3" r="1.7"/><circle cx="603.1" cy="414.6" r="1.7"/><circle cx="606.0" cy="413.9" r="1.7"/><circle cx="633.0" cy="416.1" r="1.7"/><circle cx="587.7" cy="418.2" r="1.7"/><circle cx="589.9" cy="419.0" r="1.7"/><circle cx="595.0" cy="417.5" r="1.7"/><circle cx="598.0" cy="416.8" r="1.7"/><circle cx="599.4" cy="419.0" r="1.7"/><circle cx="601.6" cy="419.0" r="1.7"/><circle cx="603.8" cy="417.5" r="1.7"/><circle cx="606.7" cy="418.2" r="1.7"/><circle cx="610.4" cy="417.5" r="1.7"/><circle cx="611.1" cy="419.0" r="1.7"/><circle cx="616.2" cy="419.0" r="1.7"/><circle cx="618.4" cy="418.7" r="1.7"/><circle cx="621.3" cy="419.7" r="1.7"/><circle cx="625.0" cy="419.0" r="1.7"/><circle cx="628.6" cy="419.7" r="1.7"/><circle cx="631.5" cy="419.0" r="1.7"/><circle cx="634.5" cy="420.4" r="1.7"/><circle cx="640.3" cy="419.7" r="1.7"/><circle cx="646.1" cy="419.0" r="1.7"/><circle cx="649.8" cy="421.2" r="1.7"/><circle cx="656.4" cy="419.0" r="1.7"/><circle cx="571.7" cy="420.4" r="1.7"/><circle cx="576.1" cy="421.9" r="1.7"/><circle cx="579.0" cy="422.6" r="1.7"/><circle cx="581.9" cy="420.4" r="1.7"/><circle cx="585.5" cy="421.9" r="1.7"/><circle cx="589.2" cy="421.2" r="1.7"/><circle cx="592.8" cy="421.9" r="1.7"/><circle cx="596.5" cy="422.6" r="1.7"/><circle cx="600.1" cy="421.9" r="1.7"/><circle cx="603.8" cy="421.9" r="1.7"/><circle cx="608.2" cy="421.2" r="1.7"/><circle cx="612.6" cy="421.9" r="1.7"/><circle cx="617.7" cy="421.9" r="1.7"/><circle cx="622.8" cy="422.6" r="1.7"/><circle cx="627.2" cy="421.9" r="1.7"/><circle cx="633.0" cy="422.6" r="1.7"/><circle cx="638.8" cy="421.9" r="1.7"/><circle cx="643.2" cy="422.6" r="1.7"/><circle cx="651.2" cy="422.6" r="1.7"/><circle cx="569.5" cy="423.4" r="1.7"/><circle cx="571.7" cy="424.8" r="1.7"/><circle cx="578.2" cy="424.1" r="1.7"/><circle cx="584.8" cy="423.4" r="1.7"/><circle cx="587.7" cy="427.0" r="1.7"/><circle cx="592.1" cy="429.2" r="1.7"/><circle cx="593.6" cy="425.5" r="1.7"/><circle cx="596.5" cy="427.0" r="1.7"/><circle cx="600.1" cy="424.1" r="1.7"/><circle cx="602.3" cy="424.8" r="1.7"/><circle cx="605.3" cy="424.1" r="1.7"/><circle cx="609.6" cy="423.4" r="1.7"/><circle cx="612.6" cy="427.7" r="1.7"/><circle cx="608.9" cy="430.4" r="1.7"/><circle cx="616.2" cy="426.3" r="1.7"/><circle cx="619.1" cy="423.4" r="1.7"/><circle cx="619.9" cy="429.9" r="1.7"/><circle cx="621.3" cy="427.0" r="1.7"/><circle cx="623.5" cy="425.5" r="1.7"/><circle cx="625.7" cy="431.4" r="1.7"/><circle cx="626.4" cy="424.1" r="1.7"/><circle cx="630.1" cy="424.8" r="1.7"/><circle cx="635.2" cy="424.1" r="1.7"/><circle cx="636.6" cy="427.7" r="1.7"/><circle cx="639.6" cy="425.5" r="1.7"/><circle cx="642.5" cy="424.1" r="1.7"/><circle cx="643.2" cy="429.2" r="1.7"/><circle cx="642.5" cy="439.1" r="1.7"/><circle cx="646.1" cy="423.4" r="1.7"/><circle cx="630.8" cy="427.0" r="1.7"/><circle cx="594.3" cy="420.4" r="1.7"/><circle cx="598.7" cy="421.2" r="1.7"/><circle cx="624.2" cy="428.5" r="1.7"/><circle cx="635.9" cy="428.5" r="1.7"/><circle cx="643.8" cy="422.7" r="1.7"/><circle cx="641.4" cy="422.9" r="1.7"/><circle cx="591.4" cy="422.0" r="1.7"/><circle cx="634.0" cy="422.7" r="1.7"/><circle cx="567.2" cy="420.4" r="1.7"/><circle cx="582.4" cy="423.3" r="1.7"/><circle cx="585.1" cy="421.6" r="1.7"/><circle cx="582.0" cy="419.7" r="1.7"/><circle cx="583.3" cy="422.3" r="1.7"/><circle cx="617.5" cy="422.0" r="1.7"/><circle cx="584.1" cy="420.5" r="1.7"/><circle cx="634.4" cy="421.5" r="1.7"/><circle cx="572.5" cy="420.5" r="1.7"/><circle cx="626.9" cy="422.9" r="1.7"/><circle cx="594.8" cy="419.5" r="1.7"/><circle cx="607.9" cy="422.3" r="1.7"/><circle cx="606.6" cy="421.1" r="1.7"/><circle cx="582.4" cy="420.7" r="1.7"/><circle cx="580.6" cy="423.5" r="1.7"/><circle cx="567.4" cy="421.8" r="1.7"/><circle cx="609.8" cy="423.6" r="1.7"/><circle cx="634.8" cy="421.0" r="1.7"/><circle cx="626.0" cy="423.7" r="1.7"/><circle cx="572.1" cy="419.3" r="1.7"/><circle cx="608.1" cy="421.8" r="1.7"/><circle cx="611.6" cy="422.5" r="1.7"/><circle cx="585.6" cy="422.6" r="1.7"/><circle cx="587.8" cy="421.7" r="1.7"/><circle cx="575.0" cy="421.1" r="1.7"/><circle cx="568.5" cy="420.9" r="1.7"/></g>
<path d="M555.6 422.4H681.6" stroke="#000" stroke-width="1.5" fill="none"/>
<path d="M555.6 422.4H681.6" stroke="#d80000" stroke-width="1.1" fill="none"/>
<path d="M555.6 415.8H681.6" stroke="#ff2020" stroke-width="1.3" fill="none" stroke-dasharray="3.3 1.4"/>
<path d="M555.6 428.9H681.6" stroke="#ff2020" stroke-width="1.3" fill="none" stroke-dasharray="3.3 1.4"/>
</g>
<rect x="555.6" y="355.4" width="126.0" height="134.90" fill="none" stroke="#505050" stroke-width="0.75"/>
<path d="M562.10 490.3v2.1M596.03 490.3v2.1M629.97 490.3v2.1M663.90 490.3v2.1M555.6 489.00h-2.1M555.6 466.95h-2.1M555.6 444.90h-2.1M555.6 422.85h-2.1M555.6 400.80h-2.1M555.6 378.75h-2.1M555.6 356.70h-2.1" stroke="#222" stroke-width="0.7" fill="none"/>
<text x="562.10" y="499.40" font-size="6.3" text-anchor="middle" stroke="#000" stroke-width="0.18">10</text>
<text x="596.03" y="499.40" font-size="6.3" text-anchor="middle" stroke="#000" stroke-width="0.18">20</text>
<text x="629.97" y="499.40" font-size="6.3" text-anchor="middle" stroke="#000" stroke-width="0.18">30</text>
<text x="663.90" y="499.40" font-size="6.3" text-anchor="middle" stroke="#000" stroke-width="0.18">40</text>
<text x="551.60" y="491.10" font-size="6.3" text-anchor="end" stroke="#000" stroke-width="0.18">−6</text>
<text x="551.60" y="469.05" font-size="6.3" text-anchor="end" stroke="#000" stroke-width="0.18">−4</text>
<text x="551.60" y="447.00" font-size="6.3" text-anchor="end" stroke="#000" stroke-width="0.18">−2</text>
<text x="551.60" y="424.95" font-size="6.3" text-anchor="end" stroke="#000" stroke-width="0.18">0</text>
<text x="551.60" y="402.90" font-size="6.3" text-anchor="end" stroke="#000" stroke-width="0.18">2</text>
<text x="551.60" y="380.85" font-size="6.3" text-anchor="end" stroke="#000" stroke-width="0.18">4</text>
<text x="551.60" y="358.80" font-size="6.3" text-anchor="end" stroke="#000" stroke-width="0.18">6</text>
<text x="618.60" y="510.30" font-size="10.2" text-anchor="middle" stroke="#000" stroke-width="0.2" textLength="78.2" lengthAdjust="spacingAndGlyphs">Mean Tb.BV/TV</text>
<text x="538.60" y="422.85" font-size="10.2" text-anchor="middle" stroke="#000" stroke-width="0.2" transform="rotate(-90 538.60 422.85)" textLength="120.7" lengthAdjust="spacingAndGlyphs">Difference (Pred. - Ref.)</text>
<clipPath id="c30"><rect x="55.5" y="520.4" width="126.0" height="134.0"/></clipPath>
<path d="M62.40 520.4V654.4M87.15 520.4V654.4M111.90 520.4V654.4M136.65 520.4V654.4M161.40 520.4V654.4M55.5 644.00H181.5M55.5 619.30H181.5M55.5 594.60H181.5M55.5 569.90H181.5M55.5 545.20H181.5M55.5 520.50H181.5" stroke="#b0b0b0" stroke-width="0.6" fill="none"/>
<g clip-path="url(#c30)">
<g fill="#000" stroke="#fff" stroke-width="0.3"><circle cx="167.1" cy="539.3" r="1.7"/><circle cx="154.0" cy="552.2" r="1.7"/><circle cx="113.3" cy="592.4" r="1.7"/><circle cx="101.9" cy="604.3" r="1.7"/><circle cx="98.9" cy="607.3" r="1.7"/><circle cx="93.4" cy="612.3" r="1.7"/><circle cx="89.5" cy="616.2" r="1.7"/><circle cx="80.9" cy="624.9" r="1.7"/><circle cx="95.5" cy="610.4" r="1.7"/><circle cx="63.8" cy="641.8" r="1.7"/><circle cx="71.0" cy="635.5" r="1.7"/><circle cx="64.3" cy="640.9" r="1.7"/><circle cx="64.7" cy="640.6" r="1.7"/><circle cx="66.2" cy="639.5" r="1.7"/><circle cx="74.8" cy="630.9" r="1.7"/><circle cx="80.5" cy="625.4" r="1.7"/><circle cx="91.5" cy="614.6" r="1.7"/><circle cx="72.3" cy="633.3" r="1.7"/><circle cx="93.3" cy="612.9" r="1.7"/><circle cx="94.9" cy="611.5" r="1.7"/><circle cx="99.4" cy="606.7" r="1.7"/><circle cx="76.5" cy="629.1" r="1.7"/><circle cx="81.6" cy="624.8" r="1.7"/><circle cx="80.4" cy="625.8" r="1.7"/><circle cx="99.8" cy="605.6" r="1.7"/><circle cx="85.8" cy="619.8" r="1.7"/><circle cx="96.6" cy="609.9" r="1.7"/><circle cx="70.1" cy="635.6" r="1.7"/><circle cx="82.1" cy="624.0" r="1.7"/><circle cx="69.2" cy="636.4" r="1.7"/><circle cx="98.9" cy="607.3" r="1.7"/><circle cx="86.5" cy="620.1" r="1.7"/><circle cx="98.9" cy="606.8" r="1.7"/><circle cx="78.4" cy="627.4" r="1.7"/><circle cx="64.4" cy="642.0" r="1.7"/><circle cx="76.0" cy="630.1" r="1.7"/><circle cx="62.1" cy="643.1" r="1.7"/><circle cx="84.2" cy="621.2" r="1.7"/><circle cx="67.4" cy="638.2" r="1.7"/><circle cx="81.8" cy="623.8" r="1.7"/><circle cx="72.1" cy="634.2" r="1.7"/><circle cx="80.2" cy="625.7" r="1.7"/><circle cx="59.1" cy="647.0" r="1.7"/></g>
<path d="M55.5 650.50L179.9 526.60" stroke="#000" stroke-width="1.2" fill="none"/>
<path d="M55.5 650.50L179.9 526.60" stroke="#ff0000" stroke-width="1.3" fill="none" stroke-dasharray="3.3 1.4"/>
</g>
<rect x="55.5" y="520.4" width="126.0" height="134.00" fill="none" stroke="#505050" stroke-width="0.75"/>
<path d="M62.40 654.4v2.1M87.15 654.4v2.1M111.90 654.4v2.1M136.65 654.4v2.1M161.40 654.4v2.1M55.5 644.00h-2.1M55.5 619.30h-2.1M55.5 594.60h-2.1M55.5 569.90h-2.1M55.5 545.20h-2.1M55.5 520.50h-2.1" stroke="#222" stroke-width="0.7" fill="none"/>
<text x="62.40" y="663.50" font-size="6.3" text-anchor="middle" stroke="#000" stroke-width="0.18">0.5</text>
<text x="87.15" y="663.50" font-size="6.3" text-anchor="middle" stroke="#000" stroke-width="0.18">1.0</text>
<text x="111.90" y="663.50" font-size="6.3" text-anchor="middle" stroke="#000" stroke-width="0.18">1.5</text>
<text x="136.65" y="663.50" font-size="6.3" text-anchor="middle" stroke="#000" stroke-width="0.18">2.0</text>
<text x="161.40" y="663.50" font-size="6.3" text-anchor="middle" stroke="#000" stroke-width="0.18">2.5</text>
<text x="51.50" y="646.10" font-size="6.3" text-anchor="end" stroke="#000" stroke-width="0.18">0.5</text>
<text x="51.50" y="621.40" font-size="6.3" text-anchor="end" stroke="#000" stroke-width="0.18">1.0</text>
<text x="51.50" y="596.70" font-size="6.3" text-anchor="end" stroke="#000" stroke-width="0.18">1.5</text>
<text x="51.50" y="572.00" font-size="6.3" text-anchor="end" stroke="#000" stroke-width="0.18">2.0</text>
<text x="51.50" y="547.30" font-size="6.3" text-anchor="end" stroke="#000" stroke-width="0.18">2.5</text>
<text x="51.50" y="522.60" font-size="6.3" text-anchor="end" stroke="#000" stroke-width="0.18">3.0</text>
<text x="118.50" y="674.40" font-size="10.2" text-anchor="middle" stroke="#000" stroke-width="0.2" textLength="84.7" lengthAdjust="spacingAndGlyphs">Reference Tb.Sp</text>
<text x="38.50" y="584.90" font-size="10.2" text-anchor="middle" stroke="#000" stroke-width="0.2" transform="rotate(-90 38.50 584.90)" textLength="80.5" lengthAdjust="spacingAndGlyphs">Predicted Tb.Sp</text>
<clipPath id="c31"><rect x="222.5" y="520.4" width="126.0" height="134.0"/></clipPath>
<path d="M227.50 520.4V654.4M252.93 520.4V654.4M278.35 520.4V654.4M303.77 520.4V654.4M329.20 520.4V654.4M222.5 646.50H348.5M222.5 626.85H348.5M222.5 607.20H348.5M222.5 587.55H348.5M222.5 567.90H348.5M222.5 548.25H348.5M222.5 528.60H348.5" stroke="#b0b0b0" stroke-width="0.6" fill="none"/>
<g clip-path="url(#c31)">
<g fill="#000" stroke="#fff" stroke-width="0.3"><circle cx="236.6" cy="648.5" r="1.7"/><circle cx="279.8" cy="584.5" r="1.7"/><circle cx="321.5" cy="595.1" r="1.7"/><circle cx="334.6" cy="588.9" r="1.7"/><circle cx="262.3" cy="607.7" r="1.7"/><circle cx="261.8" cy="596.1" r="1.7"/><circle cx="264.9" cy="592.1" r="1.7"/><circle cx="267.5" cy="591.0" r="1.7"/><circle cx="268.4" cy="587.5" r="1.7"/><circle cx="259.7" cy="587.5" r="1.7"/><circle cx="249.6" cy="582.7" r="1.7"/><circle cx="246.5" cy="595.4" r="1.7"/><circle cx="235.0" cy="600.5" r="1.7"/><circle cx="236.0" cy="594.1" r="1.7"/><circle cx="232.1" cy="592.9" r="1.7"/><circle cx="256.2" cy="592.3" r="1.7"/><circle cx="240.8" cy="591.0" r="1.7"/><circle cx="243.5" cy="591.5" r="1.7"/><circle cx="239.5" cy="592.3" r="1.7"/><circle cx="236.0" cy="584.4" r="1.7"/><circle cx="227.3" cy="585.3" r="1.7"/><circle cx="240.0" cy="586.6" r="1.7"/><circle cx="249.6" cy="586.2" r="1.7"/><circle cx="227.2" cy="585.7" r="1.7"/><circle cx="232.1" cy="587.4" r="1.7"/><circle cx="233.7" cy="587.9" r="1.7"/><circle cx="250.3" cy="588.5" r="1.7"/><circle cx="253.6" cy="588.2" r="1.7"/><circle cx="237.2" cy="589.0" r="1.7"/><circle cx="227.7" cy="592.0" r="1.7"/><circle cx="249.1" cy="589.2" r="1.7"/><circle cx="236.0" cy="586.0" r="1.7"/><circle cx="252.9" cy="586.3" r="1.7"/><circle cx="249.1" cy="585.3" r="1.7"/><circle cx="240.2" cy="585.5" r="1.7"/><circle cx="255.1" cy="590.3" r="1.7"/><circle cx="224.1" cy="585.9" r="1.7"/><circle cx="240.9" cy="587.5" r="1.7"/><circle cx="238.2" cy="584.8" r="1.7"/><circle cx="244.6" cy="589.2" r="1.7"/><circle cx="239.6" cy="586.7" r="1.7"/><circle cx="237.3" cy="587.5" r="1.7"/><circle cx="234.9" cy="585.0" r="1.7"/><circle cx="241.0" cy="588.4" r="1.7"/><circle cx="234.3" cy="589.7" r="1.7"/><circle cx="243.8" cy="589.9" r="1.7"/><circle cx="235.0" cy="585.5" r="1.7"/><circle cx="256.6" cy="589.6" r="1.7"/><circle cx="255.0" cy="588.0" r="1.7"/><circle cx="243.2" cy="588.1" r="1.7"/><circle cx="250.3" cy="586.6" r="1.7"/><circle cx="241.6" cy="587.7" r="1.7"/><circle cx="237.2" cy="589.7" r="1.7"/><circle cx="235.9" cy="587.2" r="1.7"/><circle cx="241.9" cy="588.9" r="1.7"/><circle cx="237.6" cy="587.2" r="1.7"/><circle cx="253.9" cy="587.6" r="1.7"/><circle cx="239.0" cy="584.2" r="1.7"/><circle cx="235.7" cy="587.4" r="1.7"/><circle cx="229.8" cy="592.0" r="1.7"/><circle cx="252.1" cy="587.9" r="1.7"/><circle cx="254.4" cy="585.2" r="1.7"/><circle cx="257.7" cy="586.9" r="1.7"/><circle cx="229.3" cy="589.9" r="1.7"/><circle cx="241.2" cy="588.9" r="1.7"/><circle cx="245.4" cy="587.1" r="1.7"/><circle cx="257.8" cy="587.6" r="1.7"/><circle cx="238.0" cy="586.7" r="1.7"/><circle cx="247.5" cy="588.0" r="1.7"/></g>
<path d="M222.5 587.3H348.5" stroke="#000" stroke-width="1.0" fill="none"/>
<path d="M222.5 589.0H348.5" stroke="#ff2020" stroke-width="1.0" fill="none"/>
<path d="M222.5 579.0H348.5" stroke="#ff2020" stroke-width="1.3" fill="none" stroke-dasharray="3.3 1.4"/>
<path d="M222.5 598.6H348.5" stroke="#ff2020" stroke-width="1.3" fill="none" stroke-dasharray="3.3 1.4"/>
</g>
<rect x="222.5" y="520.4" width="126.0" height="134.00" fill="none" stroke="#505050" stroke-width="0.75"/>
<path d="M227.50 654.4v2.1M252.93 654.4v2.1M278.35 654.4v2.1M303.77 654.4v2.1M329.20 654.4v2.1M222.5 646.50h-2.1M222.5 626.85h-2.1M222.5 607.20h-2.1M222.5 587.55h-2.1M222.5 567.90h-2.1M222.5 548.25h-2.1M222.5 528.60h-2.1" stroke="#222" stroke-width="0.7" fill="none"/>
<text x="227.50" y="663.50" font-size="6.3" text-anchor="middle" stroke="#000" stroke-width="0.18">0.5</text>
<text x="252.93" y="663.50" font-size="6.3" text-anchor="middle" stroke="#000" stroke-width="0.18">1.0</text>
<text x="278.35" y="663.50" font-size="6.3" text-anchor="middle" stroke="#000" stroke-width="0.18">1.5</text>
<text x="303.77" y="663.50" font-size="6.3" text-anchor="middle" stroke="#000" stroke-width="0.18">2.0</text>
<text x="329.20" y="663.50" font-size="6.3" text-anchor="middle" stroke="#000" stroke-width="0.18">2.5</text>
<text x="218.50" y="648.60" font-size="6.3" text-anchor="end" stroke="#000" stroke-width="0.18">−0.03</text>
<text x="218.50" y="628.95" font-size="6.3" text-anchor="end" stroke="#000" stroke-width="0.18">−0.02</text>
<text x="218.50" y="609.30" font-size="6.3" text-anchor="end" stroke="#000" stroke-width="0.18">−0.01</text>
<text x="218.50" y="589.65" font-size="6.3" text-anchor="end" stroke="#000" stroke-width="0.18">0.00</text>
<text x="218.50" y="570.00" font-size="6.3" text-anchor="end" stroke="#000" stroke-width="0.18">0.01</text>
<text x="218.50" y="550.35" font-size="6.3" text-anchor="end" stroke="#000" stroke-width="0.18">0.02</text>
<text x="218.50" y="530.70" font-size="6.3" text-anchor="end" stroke="#000" stroke-width="0.18">0.03</text>
<text x="285.50" y="674.40" font-size="10.2" text-anchor="middle" stroke="#000" stroke-width="0.2" textLength="60.2" lengthAdjust="spacingAndGlyphs">Mean Tb.Sp</text>
<text x="196.10" y="587.40" font-size="10.2" text-anchor="middle" stroke="#000" stroke-width="0.2" transform="rotate(-90 196.10 587.40)" textLength="120.7" lengthAdjust="spacingAndGlyphs">Difference (Pred. - Ref.)</text>
<clipPath id="c32"><rect x="388.9" y="520.4" width="126.0" height="134.0"/></clipPath>
<path d="M395.50 520.4V654.4M420.20 520.4V654.4M444.90 520.4V654.4M469.60 520.4V654.4M494.30 520.4V654.4M388.9 644.00H514.9M388.9 619.30H514.9M388.9 594.60H514.9M388.9 569.90H514.9M388.9 545.20H514.9M388.9 520.50H514.9" stroke="#b0b0b0" stroke-width="0.6" fill="none"/>
<g clip-path="url(#c32)">
<g fill="#000" stroke="#fff" stroke-width="0.3"><circle cx="462.2" cy="577.5" r="1.7"/><circle cx="442.3" cy="596.4" r="1.7"/><circle cx="435.6" cy="602.3" r="1.7"/><circle cx="429.9" cy="608.8" r="1.7"/><circle cx="424.4" cy="614.3" r="1.7"/><circle cx="429.8" cy="608.9" r="1.7"/><circle cx="402.1" cy="636.8" r="1.7"/><circle cx="405.2" cy="633.6" r="1.7"/><circle cx="436.6" cy="602.3" r="1.7"/><circle cx="399.5" cy="640.5" r="1.7"/><circle cx="398.7" cy="640.8" r="1.7"/><circle cx="416.7" cy="622.5" r="1.7"/><circle cx="428.7" cy="610.6" r="1.7"/><circle cx="426.9" cy="612.6" r="1.7"/><circle cx="409.3" cy="630.3" r="1.7"/><circle cx="398.6" cy="640.8" r="1.7"/><circle cx="408.7" cy="630.4" r="1.7"/><circle cx="396.7" cy="642.7" r="1.7"/><circle cx="434.9" cy="604.2" r="1.7"/><circle cx="405.4" cy="634.8" r="1.7"/><circle cx="430.5" cy="609.1" r="1.7"/><circle cx="428.9" cy="610.6" r="1.7"/><circle cx="434.5" cy="604.0" r="1.7"/><circle cx="404.1" cy="635.2" r="1.7"/><circle cx="403.3" cy="636.4" r="1.7"/><circle cx="414.9" cy="624.3" r="1.7"/><circle cx="401.3" cy="638.0" r="1.7"/><circle cx="435.7" cy="603.9" r="1.7"/><circle cx="398.7" cy="640.3" r="1.7"/><circle cx="411.5" cy="628.0" r="1.7"/><circle cx="429.4" cy="610.0" r="1.7"/><circle cx="402.2" cy="637.3" r="1.7"/><circle cx="395.4" cy="643.6" r="1.7"/><circle cx="400.7" cy="638.5" r="1.7"/><circle cx="405.7" cy="633.6" r="1.7"/><circle cx="413.3" cy="625.8" r="1.7"/><circle cx="400.6" cy="638.8" r="1.7"/><circle cx="410.4" cy="629.0" r="1.7"/><circle cx="434.7" cy="604.4" r="1.7"/><circle cx="413.8" cy="626.2" r="1.7"/><circle cx="405.5" cy="633.9" r="1.7"/><circle cx="409.8" cy="629.9" r="1.7"/><circle cx="403.2" cy="636.1" r="1.7"/></g>
<path d="M388.9 650.50L513.3 525.90" stroke="#000" stroke-width="1.2" fill="none"/>
<path d="M388.9 650.50L513.3 525.90" stroke="#ff0000" stroke-width="1.3" fill="none" stroke-dasharray="3.3 1.4"/>
</g>
<rect x="388.9" y="520.4" width="126.0" height="134.00" fill="none" stroke="#505050" stroke-width="0.75"/>
<path d="M395.50 654.4v2.1M420.20 654.4v2.1M444.90 654.4v2.1M469.60 654.4v2.1M494.30 654.4v2.1M388.9 644.00h-2.1M388.9 619.30h-2.1M388.9 594.60h-2.1M388.9 569.90h-2.1M388.9 545.20h-2.1M388.9 520.50h-2.1" stroke="#222" stroke-width="0.7" fill="none"/>
<text x="395.50" y="663.50" font-size="6.3" text-anchor="middle" stroke="#000" stroke-width="0.18">0.5</text>
<text x="420.20" y="663.50" font-size="6.3" text-anchor="middle" stroke="#000" stroke-width="0.18">1.0</text>
<text x="444.90" y="663.50" font-size="6.3" text-anchor="middle" stroke="#000" stroke-width="0.18">1.5</text>
<text x="469.60" y="663.50" font-size="6.3" text-anchor="middle" stroke="#000" stroke-width="0.18">2.0</text>
<text x="494.30" y="663.50" font-size="6.3" text-anchor="middle" stroke="#000" stroke-width="0.18">2.5</text>
<text x="384.90" y="646.10" font-size="6.3" text-anchor="end" stroke="#000" stroke-width="0.18">0.5</text>
<text x="384.90" y="621.40" font-size="6.3" text-anchor="end" stroke="#000" stroke-width="0.18">1.0</text>
<text x="384.90" y="596.70" font-size="6.3" text-anchor="end" stroke="#000" stroke-width="0.18">1.5</text>
<text x="384.90" y="572.00" font-size="6.3" text-anchor="end" stroke="#000" stroke-width="0.18">2.0</text>
<text x="384.90" y="547.30" font-size="6.3" text-anchor="end" stroke="#000" stroke-width="0.18">2.5</text>
<text x="384.90" y="522.60" font-size="6.3" text-anchor="end" stroke="#000" stroke-width="0.18">3.0</text>
<text x="451.90" y="674.40" font-size="10.2" text-anchor="middle" stroke="#000" stroke-width="0.2" textLength="84.7" lengthAdjust="spacingAndGlyphs">Reference Tb.Sp</text>
<text x="371.90" y="584.90" font-size="10.2" text-anchor="middle" stroke="#000" stroke-width="0.2" transform="rotate(-90 371.90 584.90)" textLength="80.5" lengthAdjust="spacingAndGlyphs">Predicted Tb.Sp</text>
<clipPath id="c33"><rect x="555.6" y="520.4" width="126.0" height="134.0"/></clipPath>
<path d="M560.40 520.4V654.4M585.95 520.4V654.4M611.50 520.4V654.4M637.05 520.4V654.4M662.60 520.4V654.4M555.6 646.50H681.6M555.6 626.85H681.6M555.6 607.20H681.6M555.6 587.55H681.6M555.6 567.90H681.6M555.6 548.25H681.6M555.6 528.60H681.6" stroke="#b0b0b0" stroke-width="0.6" fill="none"/>
<g clip-path="url(#c33)">
<g fill="#000" stroke="#fff" stroke-width="0.3"><circle cx="571.6" cy="580.0" r="1.7"/><circle cx="577.0" cy="582.0" r="1.7"/><circle cx="580.0" cy="583.2" r="1.7"/><circle cx="584.5" cy="600.1" r="1.7"/><circle cx="590.2" cy="597.4" r="1.7"/><circle cx="590.7" cy="609.3" r="1.7"/><circle cx="577.0" cy="598.1" r="1.7"/><circle cx="574.1" cy="595.1" r="1.7"/><circle cx="570.1" cy="592.7" r="1.7"/><circle cx="591.8" cy="587.1" r="1.7"/><circle cx="597.0" cy="587.5" r="1.7"/><circle cx="603.2" cy="587.1" r="1.7"/><circle cx="602.3" cy="591.0" r="1.7"/><circle cx="608.9" cy="590.6" r="1.7"/><circle cx="595.3" cy="593.2" r="1.7"/><circle cx="628.6" cy="588.2" r="1.7"/><circle cx="562.1" cy="584.5" r="1.7"/><circle cx="558.4" cy="588.9" r="1.7"/><circle cx="584.0" cy="590.0" r="1.7"/><circle cx="582.5" cy="594.5" r="1.7"/><circle cx="572.4" cy="588.4" r="1.7"/><circle cx="580.2" cy="591.7" r="1.7"/><circle cx="574.0" cy="591.6" r="1.7"/><circle cx="559.6" cy="593.9" r="1.7"/><circle cx="566.6" cy="587.9" r="1.7"/><circle cx="573.9" cy="591.5" r="1.7"/><circle cx="565.9" cy="590.0" r="1.7"/><circle cx="563.8" cy="592.2" r="1.7"/><circle cx="565.5" cy="592.5" r="1.7"/><circle cx="580.2" cy="585.3" r="1.7"/><circle cx="561.0" cy="589.7" r="1.7"/><circle cx="577.4" cy="586.8" r="1.7"/><circle cx="569.4" cy="585.3" r="1.7"/><circle cx="564.5" cy="586.9" r="1.7"/><circle cx="575.9" cy="590.3" r="1.7"/><circle cx="584.4" cy="584.6" r="1.7"/><circle cx="558.2" cy="589.4" r="1.7"/><circle cx="562.9" cy="591.6" r="1.7"/><circle cx="558.2" cy="592.7" r="1.7"/><circle cx="562.4" cy="585.9" r="1.7"/><circle cx="578.5" cy="592.0" r="1.7"/><circle cx="577.5" cy="589.1" r="1.7"/><circle cx="582.0" cy="586.7" r="1.7"/><circle cx="558.3" cy="586.0" r="1.7"/><circle cx="558.4" cy="590.4" r="1.7"/><circle cx="580.7" cy="595.0" r="1.7"/><circle cx="579.5" cy="591.2" r="1.7"/><circle cx="568.8" cy="583.7" r="1.7"/><circle cx="565.4" cy="592.6" r="1.7"/><circle cx="569.7" cy="587.2" r="1.7"/><circle cx="579.2" cy="585.5" r="1.7"/><circle cx="570.6" cy="590.5" r="1.7"/><circle cx="569.9" cy="588.5" r="1.7"/><circle cx="560.8" cy="588.2" r="1.7"/><circle cx="578.1" cy="587.0" r="1.7"/><circle cx="573.4" cy="588.2" r="1.7"/><circle cx="573.3" cy="590.0" r="1.7"/><circle cx="567.7" cy="590.0" r="1.7"/><circle cx="566.3" cy="592.3" r="1.7"/><circle cx="577.1" cy="591.1" r="1.7"/><circle cx="572.5" cy="591.2" r="1.7"/><circle cx="567.5" cy="594.5" r="1.7"/><circle cx="561.3" cy="588.0" r="1.7"/><circle cx="581.5" cy="587.6" r="1.7"/><circle cx="562.1" cy="585.7" r="1.7"/><circle cx="570.8" cy="583.7" r="1.7"/><circle cx="560.4" cy="591.6" r="1.7"/><circle cx="563.2" cy="589.8" r="1.7"/><circle cx="562.9" cy="586.1" r="1.7"/><circle cx="560.4" cy="591.8" r="1.7"/><circle cx="567.9" cy="589.9" r="1.7"/><circle cx="557.3" cy="588.8" r="1.7"/><circle cx="559.5" cy="581.3" r="1.7"/><circle cx="573.9" cy="591.0" r="1.7"/><circle cx="570.0" cy="592.3" r="1.7"/></g>
<path d="M555.6 587.3H681.6" stroke="#000" stroke-width="1.0" fill="none"/>
<path d="M555.6 589.0H681.6" stroke="#ff2020" stroke-width="1.0" fill="none"/>
<path d="M555.6 583.2H681.6" stroke="#ff2020" stroke-width="1.3" fill="none" stroke-dasharray="3.3 1.4"/>
<path d="M555.6 594.4H681.6" stroke="#ff2020" stroke-width="1.3" fill="none" stroke-dasharray="3.3 1.4"/>
</g>
<rect x="555.6" y="520.4" width="126.0" height="134.00" fill="none" stroke="#505050" stroke-width="0.75"/>
<path d="M560.40 654.4v2.1M585.95 654.4v2.1M611.50 654.4v2.1M637.05 654.4v2.1M662.60 654.4v2.1M555.6 646.50h-2.1M555.6 626.85h-2.1M555.6 607.20h-2.1M555.6 587.55h-2.1M555.6 567.90h-2.1M555.6 548.25h-2.1M555.6 528.60h-2.1" stroke="#222" stroke-width="0.7" fill="none"/>
<text x="560.40" y="663.50" font-size="6.3" text-anchor="middle" stroke="#000" stroke-width="0.18">0.5</text>
<text x="585.95" y="663.50" font-size="6.3" text-anchor="middle" stroke="#000" stroke-width="0.18">1.0</text>
<text x="611.50" y="663.50" font-size="6.3" text-anchor="middle" stroke="#000" stroke-width="0.18">1.5</text>
<text x="637.05" y="663.50" font-size="6.3" text-anchor="middle" stroke="#000" stroke-width="0.18">2.0</text>
<text x="662.60" y="663.50" font-size="6.3" text-anchor="middle" stroke="#000" stroke-width="0.18">2.5</text>
<text x="551.60" y="648.60" font-size="6.3" text-anchor="end" stroke="#000" stroke-width="0.18">−0.03</text>
<text x="551.60" y="628.95" font-size="6.3" text-anchor="end" stroke="#000" stroke-width="0.18">−0.02</text>
<text x="551.60" y="609.30" font-size="6.3" text-anchor="end" stroke="#000" stroke-width="0.18">−0.01</text>
<text x="551.60" y="589.65" font-size="6.3" text-anchor="end" stroke="#000" stroke-width="0.18">0.00</text>
<text x="551.60" y="570.00" font-size="6.3" text-anchor="end" stroke="#000" stroke-width="0.18">0.01</text>
<text x="551.60" y="550.35" font-size="6.3" text-anchor="end" stroke="#000" stroke-width="0.18">0.02</text>
<text x="551.60" y="530.70" font-size="6.3" text-anchor="end" stroke="#000" stroke-width="0.18">0.03</text>
<text x="618.60" y="674.40" font-size="10.2" text-anchor="middle" stroke="#000" stroke-width="0.2" textLength="60.2" lengthAdjust="spacingAndGlyphs">Mean Tb.Sp</text>
<text x="529.20" y="587.40" font-size="10.2" text-anchor="middle" stroke="#000" stroke-width="0.2" transform="rotate(-90 529.20 587.40)" textLength="120.7" lengthAdjust="spacingAndGlyphs">Difference (Pred. - Ref.)</text>
</svg></body></html>
